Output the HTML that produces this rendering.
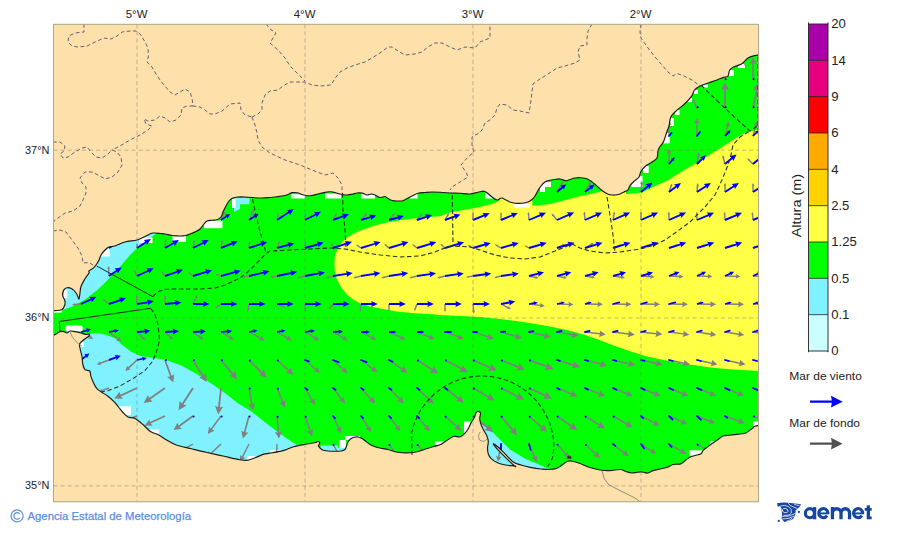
<!DOCTYPE html>
<html><head><meta charset="utf-8"><title>AEMET - Mapa de oleaje</title>
<style>html,body{margin:0;padding:0;background:#fff;}body{width:900px;height:533px;position:relative;overflow:hidden;font-family:"Liberation Sans",sans-serif;}</style>
</head><body>
<svg width="900" height="533" viewBox="0 0 900 533" style="position:absolute;left:0;top:0"><defs><clipPath id="fr"><rect x="53.5" y="24.3" width="705.0" height="477.5"/></clipPath></defs><g clip-path="url(#fr)"><rect x="53.5" y="24.3" width="705.0" height="477.5" fill="#00FF00"/><polygon points="334.4,264.0 334.8,256.0 337.0,250.5 339.5,245.5 342.5,241.5 347.5,237.2 353.8,233.6 359.0,231.0 365.0,229.0 371.5,226.6 378.5,224.6 386.0,222.8 394.3,221.3 402.0,220.0 410.0,219.0 418.0,218.1 425.8,217.4 433.0,216.8 440.0,216.2 450.0,212.5 462.0,210.3 475.0,208.0 487.0,205.3 495.0,203.0 500.0,200.0 500.0,190.0 532.0,190.0 532.5,205.7 540.0,205.3 550.0,204.0 562.0,201.0 575.0,197.5 588.0,194.5 595.0,193.0 603.0,191.0 605.0,180.0 625.0,180.0 626.0,194.0 633.0,193.5 641.7,192.4 653.0,187.0 667.0,180.7 681.0,172.0 695.0,164.0 711.0,154.0 723.0,146.5 736.0,138.0 745.0,133.0 759.0,129.0 759.0,371.0 745.0,370.3 730.0,369.3 715.0,368.0 700.0,366.0 688.0,364.3 675.0,362.3 660.0,359.3 645.0,356.0 630.0,351.3 615.0,346.0 600.0,340.3 585.0,335.0 570.0,330.8 550.0,326.5 525.0,322.2 500.0,318.9 480.0,316.9 460.0,315.9 440.0,314.9 432.6,314.3 414.6,313.2 396.6,311.4 383.0,309.0 369.5,306.4 360.5,303.5 353.8,300.0 347.0,294.5 341.4,287.7 337.0,279.8 334.8,272.0" fill="#FFFF46"/><polygon points="53.0,313.0 61.7,310.6 73.4,306.0 85.8,299.0 96.7,290.4 106.0,281.8 112.3,274.8 118.5,268.6 124.0,262.0 130.0,255.0 137.0,248.0 144.0,242.0 150.0,238.0 157.0,233.0 157.0,225.0 90.0,225.0 50.0,290.0" fill="#80F2FF"/><polygon points="80.0,334.0 89.0,334.0 96.7,333.0 106.0,334.7 115.4,338.6 123.0,345.6 131.0,351.8 140.0,355.7 152.8,358.0 164.6,359.4 181.0,365.3 197.4,374.6 213.9,385.2 225.6,393.4 237.3,402.8 251.4,411.5 265.5,422.7 279.5,433.3 291.3,441.5 298.3,445.7 300.0,470.0 60.0,470.0 60.0,340.0" fill="#80F2FF"/><polygon points="321.0,445.5 338.0,445.5 338.0,448.0 345.0,448.0 345.0,455.0 318.0,455.0" fill="#80F2FF"/><polygon points="480.8,422.5 494.5,434.0 510.0,449.5 525.7,458.9 536.6,463.5 547.5,468.5 550.0,476.0 480.0,476.0 475.0,430.0" fill="#80F2FF"/><polygon points="234.0,198.0 249.5,198.0 249.5,204.3 240.0,204.3 240.0,209.0 234.0,212.0" fill="#80F2FF"/><rect x="53.5" y="310" width="8.2" height="2.6" fill="#fff"/><rect x="64" y="289.6" width="3.3" height="8.5" fill="#fff"/><rect x="101" y="249.5" width="9" height="7" fill="#fff"/><rect x="139" y="237.5" width="13.5" height="5.5" fill="#fff"/><rect x="172.5" y="235.8" width="13.5" height="6" fill="#fff"/><rect x="204" y="220.6" width="18.5" height="7.6" fill="#fff"/><rect x="232" y="199" width="3.6" height="9" fill="#fff"/><rect x="291" y="194.2" width="14" height="4.3" fill="#fff"/><rect x="325" y="193.7" width="16" height="4.8" fill="#fff"/><rect x="361" y="194.2" width="14" height="4.3" fill="#fff"/><rect x="410" y="194.2" width="7.5" height="4.3" fill="#fff"/><rect x="485" y="193.3" width="10" height="5.2" fill="#fff"/><rect x="514" y="204" width="16" height="3.5" fill="#fff"/><rect x="540" y="182" width="5" height="10" fill="#fff"/><rect x="545" y="182" width="6" height="5" fill="#fff"/><rect x="631.5" y="180" width="11" height="7" fill="#fff"/><rect x="636" y="176" width="6.5" height="5" fill="#fff"/><rect x="643" y="166" width="5.7" height="7" fill="#fff"/><rect x="663.5" y="133" width="6.2" height="10.4" fill="#fff"/><rect x="670" y="118" width="4" height="8" fill="#fff"/><rect x="675" y="110" width="4.5" height="5" fill="#fff"/><rect x="688" y="98" width="4" height="4" fill="#fff"/><rect x="694" y="90" width="4" height="4" fill="#fff"/><rect x="703" y="84.5" width="5" height="3" fill="#fff"/><rect x="729" y="70" width="5" height="6" fill="#fff"/><rect x="738" y="64" width="7" height="4" fill="#fff"/><rect x="118.5" y="406.3" width="12.5" height="8.7" fill="#fff"/><rect x="150" y="429.5" width="9" height="4" fill="#fff"/><rect x="270" y="450" width="12.5" height="2.3" fill="#fff"/><rect x="247.5" y="456" width="7.5" height="3.3" fill="#fff"/><rect x="339" y="440" width="7" height="8" fill="#fff"/><rect x="345" y="436" width="15" height="4" fill="#fff"/><rect x="435" y="441.5" width="14" height="3.5" fill="#fff"/><rect x="464" y="421.5" width="6.4" height="11.5" fill="#fff"/><rect x="440" y="441.7" width="4.7" height="3" fill="#fff"/><rect x="689.3" y="450.3" width="13.5" height="5.4" fill="#fff"/><rect x="710.4" y="441" width="3.4" height="3.3" fill="#fff"/><rect x="753" y="421.5" width="6" height="5" fill="#fff"/><rect x="80.4" y="341.7" width="3.1" height="5.3" fill="#fff"/><rect x="612" y="194" width="4" height="2" fill="#fff"/><rect x="65.6" y="325.4" width="17.1" height="6.2" rx="2" fill="#fff"/><g><polygon points="724.2,80.0 724.2,63.4 721.4,64.1 725.0,57.0 728.6,64.1 725.8,63.4 725.8,80.0" fill="#808080"/><polygon points="752.2,80.0 752.2,63.4 749.4,64.1 753.0,57.0 756.6,64.1 753.8,63.4 753.8,80.0" fill="#808080"/><polygon points="696.3,108.3 693.3,101.8 692.7,102.4 692.8,98.9 695.5,101.1 694.6,101.2 697.7,107.7" fill="#808080"/><polygon points="724.1,108.0 724.1,89.3 721.0,90.1 725.0,82.0 729.0,90.1 725.9,89.3 725.9,108.0" fill="#808080"/><polygon points="752.1,107.8 756.0,89.5 752.8,89.6 758.4,82.6 760.7,91.3 757.8,89.9 753.9,108.2" fill="#808080"/><polygon points="668.3,136.0 668.3,124.5 666.5,125.0 669.0,120.0 671.5,125.0 669.7,124.5 669.7,136.0" fill="#808080"/><polygon points="696.3,136.0 696.3,123.0 694.2,123.6 697.0,118.0 699.8,123.6 697.7,123.0 697.7,136.0" fill="#808080"/><polygon points="724.3,135.8 727.1,125.4 725.4,125.4 728.9,121.5 729.9,126.6 728.5,125.7 725.7,136.2" fill="#808080"/><polygon points="752.3,135.8 755.1,125.4 753.4,125.4 756.9,121.5 757.9,126.6 756.5,125.7 753.7,136.2" fill="#808080"/><polygon points="668.3,164.0 668.3,153.2 666.7,153.7 669.0,149.0 671.3,153.7 669.7,153.2 669.7,164.0" fill="#808080"/><polygon points="696.3,163.9 697.8,155.4 696.6,155.5 699.1,152.2 700.3,156.2 699.2,155.6 697.7,164.1" fill="#808080"/><polygon points="724.3,164.2 722.6,157.9 722.0,158.4 722.7,155.3 724.7,157.6 724.0,157.5 725.7,163.8" fill="#808080"/><polygon points="752.5,164.5 748.4,160.4 748.2,161.0 747.3,158.3 750.0,159.2 749.4,159.4 753.5,163.5" fill="#808080"/><polygon points="276.4,191.6 280.7,184.1 279.5,183.9 283.0,181.6 282.8,185.8 282.0,184.9 277.6,192.4" fill="#808080"/><polygon points="304.4,191.6 308.7,184.1 307.5,183.9 311.0,181.6 310.8,185.8 310.0,184.9 305.6,192.4" fill="#808080"/><polygon points="332.4,191.6 336.7,184.1 335.5,183.9 339.0,181.6 338.8,185.8 338.0,184.9 333.6,192.4" fill="#808080"/><polygon points="360.4,191.6 364.7,184.1 363.5,183.9 367.0,181.6 366.8,185.8 366.0,184.9 361.6,192.4" fill="#808080"/><polygon points="416.4,191.6 420.7,184.1 419.5,183.9 423.0,181.6 422.8,185.8 422.0,184.9 417.6,192.4" fill="#808080"/><polygon points="444.4,191.6 448.7,184.1 447.5,183.9 451.0,181.6 450.8,185.8 450.0,184.9 445.6,192.4" fill="#808080"/><polygon points="472.4,191.6 476.7,184.1 475.5,183.9 479.0,181.6 478.8,185.8 478.0,184.9 473.6,192.4" fill="#808080"/><polygon points="556.4,191.6 560.7,184.1 559.5,183.9 563.0,181.6 562.8,185.8 562.0,184.9 557.6,192.4" fill="#808080"/><polygon points="584.4,191.6 588.7,184.1 587.5,183.9 591.0,181.6 590.8,185.8 590.0,184.9 585.6,192.4" fill="#808080"/><polygon points="612.3,191.8 614.8,183.9 613.7,183.9 616.5,181.0 617.1,185.0 616.2,184.3 613.7,192.2" fill="#808080"/><polygon points="640.3,191.9 641.0,184.0 640.0,184.3 642.0,181.0 643.4,184.6 642.4,184.2 641.7,192.1" fill="#808080"/><polygon points="668.3,191.8 670.5,185.7 669.8,185.7 672.1,183.5 672.4,186.6 671.9,186.2 669.7,192.2" fill="#808080"/><polygon points="696.3,191.9 696.8,185.5 696.2,185.7 697.8,183.0 698.9,185.9 698.3,185.6 697.7,192.1" fill="#808080"/><polygon points="724.3,192.0 724.3,185.5 723.6,185.8 725.0,183.0 726.4,185.8 725.7,185.5 725.7,192.0" fill="#808080"/><polygon points="752.3,192.0 752.3,185.5 751.6,185.8 753.0,183.0 754.4,185.8 753.7,185.5 753.7,192.0" fill="#808080"/><polygon points="220.3,219.7 223.4,213.2 222.5,213.1 225.2,210.9 225.3,214.4 224.7,213.8 221.7,220.3" fill="#808080"/><polygon points="248.3,219.7 252.0,211.9 250.8,211.7 254.1,209.1 254.2,213.3 253.3,212.5 249.7,220.3" fill="#808080"/><polygon points="276.3,219.8 277.6,214.9 277.2,215.1 278.8,213.2 279.3,215.6 279.0,215.3 277.7,220.2" fill="#808080"/><polygon points="304.3,219.9 304.7,214.9 304.3,215.1 305.6,213.0 306.5,215.3 306.2,215.0 305.7,220.1" fill="#808080"/><polygon points="332.4,219.7 335.1,214.6 334.5,214.5 336.8,212.9 336.7,215.7 336.3,215.2 333.6,220.3" fill="#808080"/><polygon points="360.5,219.5 365.1,214.5 364.4,214.2 367.5,213.1 366.5,216.2 366.2,215.5 361.5,220.5" fill="#808080"/><polygon points="388.4,219.5 392.6,214.6 391.9,214.3 394.8,213.1 394.1,216.1 393.7,215.5 389.6,220.5" fill="#808080"/><polygon points="416.4,219.6 420.4,214.4 419.7,214.2 422.5,212.9 421.9,216.0 421.6,215.3 417.6,220.4" fill="#808080"/><polygon points="444.4,219.6 447.3,214.6 446.7,214.6 449.0,213.1 448.8,215.8 448.5,215.4 445.6,220.4" fill="#808080"/><polygon points="472.3,220.0 472.3,214.2 471.8,214.5 473.0,212.0 474.2,214.5 473.7,214.2 473.7,220.0" fill="#808080"/><polygon points="500.3,220.0 500.3,214.2 499.8,214.5 501.0,212.0 502.2,214.5 501.7,214.2 501.7,220.0" fill="#808080"/><polygon points="528.3,220.1 527.8,214.3 527.3,214.6 528.3,212.0 529.8,214.4 529.2,214.2 529.7,219.9" fill="#808080"/><polygon points="556.4,220.5 552.5,215.8 552.2,216.4 551.5,213.5 554.2,214.7 553.6,214.8 557.6,219.5" fill="#808080"/><polygon points="584.3,220.1 583.7,214.0 583.2,214.3 584.3,211.5 585.8,214.0 585.2,213.8 585.7,219.9" fill="#808080"/><polygon points="612.3,219.9 613.4,213.8 612.7,214.0 614.5,211.6 615.3,214.5 614.8,214.1 613.7,220.1" fill="#808080"/><polygon points="640.3,220.0 640.3,213.9 639.7,214.1 641.0,211.5 642.3,214.1 641.7,213.9 641.7,220.0" fill="#808080"/><polygon points="668.3,220.0 668.1,214.0 667.6,214.3 668.8,211.6 670.2,214.2 669.6,213.9 669.7,220.0" fill="#808080"/><polygon points="696.3,220.0 696.0,214.1 695.5,214.4 696.6,211.8 698.0,214.3 697.5,214.0 697.7,220.0" fill="#808080"/><polygon points="724.3,220.0 723.9,214.2 723.4,214.5 724.5,211.9 725.9,214.3 725.3,214.1 725.7,220.0" fill="#808080"/><polygon points="752.3,220.1 751.8,214.3 751.3,214.6 752.3,212.0 753.8,214.4 753.2,214.2 753.7,219.9" fill="#808080"/><polygon points="108.3,248.0 108.3,244.4 108.2,244.6 109.0,243.0 109.8,244.6 109.7,244.4 109.7,248.0" fill="#808080"/><polygon points="136.3,248.0 136.3,244.4 136.2,244.6 137.0,243.0 137.8,244.6 137.7,244.4 137.7,248.0" fill="#808080"/><polygon points="164.3,247.9 164.8,241.5 164.2,241.7 165.8,239.0 166.9,241.9 166.3,241.6 165.7,248.1" fill="#808080"/><polygon points="192.3,247.9 193.3,242.2 192.7,242.3 194.4,240.1 195.2,242.8 194.7,242.4 193.7,248.1" fill="#808080"/><polygon points="220.3,247.9 221.3,242.2 220.7,242.3 222.4,240.1 223.2,242.8 222.7,242.4 221.7,248.1" fill="#808080"/><polygon points="248.3,247.9 248.7,242.9 248.3,243.1 249.6,241.0 250.5,243.3 250.2,243.0 249.7,248.1" fill="#808080"/><polygon points="276.3,247.8 278.3,242.3 277.7,242.4 279.7,240.5 280.1,243.2 279.7,242.8 277.7,248.2" fill="#808080"/><polygon points="304.3,247.9 304.7,242.9 304.3,243.1 305.6,241.0 306.5,243.3 306.2,243.0 305.7,248.1" fill="#808080"/><polygon points="332.3,248.2 330.8,244.2 330.7,244.4 330.9,242.4 332.5,243.8 332.2,243.7 333.7,247.8" fill="#808080"/><polygon points="360.6,248.6 357.0,246.1 357.1,246.4 356.1,244.6 358.1,244.9 357.9,244.9 361.4,247.4" fill="#808080"/><polygon points="388.5,248.6 385.2,245.8 385.2,246.1 384.4,244.1 386.4,244.6 386.2,244.7 389.5,247.4" fill="#808080"/><polygon points="416.5,248.6 413.2,245.8 413.2,246.1 412.4,244.1 414.4,244.6 414.2,244.7 417.5,247.4" fill="#808080"/><polygon points="444.5,248.6 441.2,245.8 441.2,246.1 440.4,244.1 442.4,244.6 442.2,244.7 445.5,247.4" fill="#808080"/><polygon points="472.6,248.6 468.9,246.5 468.9,246.7 467.8,245.0 469.9,245.1 469.6,245.2 473.4,247.4" fill="#808080"/><polygon points="500.6,248.6 496.3,246.1 496.3,246.5 494.9,244.5 497.4,244.6 497.0,244.8 501.4,247.4" fill="#808080"/><polygon points="528.6,248.6 525.5,246.8 525.6,246.9 524.7,245.5 526.4,245.6 526.2,245.6 529.4,247.4" fill="#808080"/><polygon points="556.7,247.3 562.6,244.6 562.0,244.1 565.2,244.2 563.2,246.6 563.2,245.9 557.3,248.7" fill="#808080"/><polygon points="584.6,247.4 590.9,243.8 590.2,243.2 593.7,243.0 591.8,245.9 591.6,245.0 585.4,248.6" fill="#808080"/><polygon points="612.8,247.3 619.2,245.0 618.7,244.4 621.9,244.8 619.7,247.1 619.7,246.3 613.2,248.7" fill="#808080"/><polygon points="640.8,247.3 647.2,245.0 646.7,244.4 649.9,244.8 647.7,247.1 647.7,246.3 641.2,248.7" fill="#808080"/><polygon points="668.8,247.3 675.2,245.0 674.7,244.4 677.9,244.8 675.7,247.1 675.7,246.3 669.2,248.7" fill="#808080"/><polygon points="696.8,247.3 703.2,245.0 702.7,244.4 705.9,244.8 703.7,247.1 703.7,246.3 697.2,248.7" fill="#808080"/><polygon points="724.8,247.3 731.2,245.0 730.7,244.4 733.9,244.8 731.7,247.1 731.7,246.3 725.2,248.7" fill="#808080"/><polygon points="752.8,247.3 759.2,245.0 758.7,244.4 761.9,244.8 759.7,247.1 759.7,246.3 753.2,248.7" fill="#808080"/><polygon points="108.3,276.0 107.9,268.8 107.1,269.2 108.5,266.0 110.2,269.0 109.3,268.8 109.7,276.0" fill="#808080"/><polygon points="136.3,276.3 134.2,271.7 134.0,272.1 134.0,269.7 135.9,271.2 135.5,271.1 137.7,275.7" fill="#808080"/><polygon points="164.4,276.4 161.9,272.9 161.9,273.1 161.6,271.1 163.4,272.1 163.1,272.0 165.6,275.6" fill="#808080"/><polygon points="192.5,276.6 189.2,273.8 189.2,274.1 188.4,272.1 190.4,272.6 190.2,272.7 193.5,275.4" fill="#808080"/><polygon points="220.8,276.7 216.7,275.2 216.8,275.5 215.4,273.9 217.4,273.7 217.2,273.8 221.2,275.3" fill="#808080"/><polygon points="249.1,276.7 244.2,277.6 244.4,277.9 242.1,277.2 244.1,275.8 243.9,276.2 248.9,275.3" fill="#808080"/><polygon points="277.1,276.7 272.2,277.6 272.4,277.9 270.1,277.2 272.1,275.8 271.9,276.2 276.9,275.3" fill="#808080"/><polygon points="305.2,276.7 299.6,278.2 300.0,278.6 297.3,278.1 299.3,276.2 299.2,276.8 304.8,275.3" fill="#808080"/><polygon points="333.2,276.7 327.6,278.2 328.0,278.6 325.3,278.1 327.3,276.2 327.2,276.8 332.8,275.3" fill="#808080"/><polygon points="361.2,276.7 355.6,278.2 356.0,278.6 353.3,278.1 355.3,276.2 355.2,276.8 360.8,275.3" fill="#808080"/><polygon points="389.2,276.7 383.6,278.2 384.0,278.6 381.3,278.1 383.3,276.2 383.2,276.8 388.8,275.3" fill="#808080"/><polygon points="417.2,276.7 411.6,278.2 412.0,278.6 409.3,278.1 411.3,276.2 411.2,276.8 416.8,275.3" fill="#808080"/><polygon points="445.2,276.7 439.6,278.2 440.0,278.6 437.3,278.1 439.3,276.2 439.2,276.8 444.8,275.3" fill="#808080"/><polygon points="473.1,276.7 468.2,277.6 468.4,277.9 466.1,277.2 468.1,275.8 467.9,276.2 472.9,275.3" fill="#808080"/><polygon points="501.2,276.7 496.3,278.0 496.6,278.3 494.2,277.8 496.1,276.2 495.9,276.6 500.8,275.3" fill="#808080"/><polygon points="529.2,275.3 536.0,276.7 535.9,275.9 538.5,278.0 535.2,278.9 535.7,278.2 528.8,276.7" fill="#808080"/><polygon points="557.2,275.3 564.2,276.8 564.1,275.9 566.8,278.1 563.4,279.0 563.9,278.2 556.8,276.7" fill="#808080"/><polygon points="585.1,275.3 592.2,276.5 592.1,275.7 594.8,277.7 591.5,278.7 592.0,278.0 584.9,276.7" fill="#808080"/><polygon points="613.1,275.3 621.7,276.5 621.5,275.3 624.9,277.7 620.9,279.0 621.5,277.9 612.9,276.7" fill="#808080"/><polygon points="641.1,275.3 650.8,276.0 650.4,274.6 654.5,276.9 650.1,278.7 650.7,277.4 640.9,276.7" fill="#808080"/><polygon points="669.0,275.3 679.5,275.8 679.1,274.3 683.5,276.8 678.9,278.8 679.4,277.3 669.0,276.7" fill="#808080"/><polygon points="697.0,275.3 708.2,275.7 707.8,274.0 712.5,276.5 707.6,278.8 708.1,277.1 697.0,276.7" fill="#808080"/><polygon points="725.0,275.3 736.2,275.7 735.8,274.0 740.5,276.5 735.6,278.8 736.1,277.1 725.0,276.7" fill="#808080"/><polygon points="753.0,275.3 764.2,275.7 763.8,274.0 768.5,276.5 763.6,278.8 764.1,277.1 753.0,276.7" fill="#808080"/><polygon points="81.1,304.7 74.6,305.3 74.9,305.9 72.0,304.8 74.7,303.2 74.5,303.8 80.9,303.3" fill="#808080"/><polygon points="108.5,304.6 104.1,300.8 104.0,301.4 102.9,298.9 105.6,299.5 105.0,299.7 109.5,303.4" fill="#808080"/><polygon points="136.3,304.0 135.9,297.6 135.3,297.9 136.5,295.0 138.1,297.7 137.4,297.5 137.7,304.0" fill="#808080"/><polygon points="164.3,304.0 164.3,297.5 163.6,297.8 165.0,295.0 166.4,297.8 165.7,297.5 165.7,304.0" fill="#808080"/><polygon points="192.3,303.7 195.4,297.2 194.5,297.1 197.2,294.9 197.3,298.4 196.7,297.8 193.7,304.3" fill="#808080"/><polygon points="221.4,304.6 217.3,307.5 217.7,307.7 215.3,308.0 216.4,305.9 216.4,306.3 220.6,303.4" fill="#808080"/><polygon points="249.7,304.1 248.7,309.8 249.3,309.7 247.6,311.9 246.8,309.2 247.3,309.6 248.3,303.9" fill="#808080"/><polygon points="277.2,303.3 282.7,305.3 282.6,304.7 284.5,306.7 281.8,307.1 282.2,306.7 276.8,304.7" fill="#808080"/><polygon points="305.7,303.9 306.2,309.7 306.7,309.4 305.7,312.0 304.2,309.6 304.8,309.8 304.3,304.1" fill="#808080"/><polygon points="333.6,304.4 330.7,308.6 331.1,308.6 329.0,309.7 329.3,307.3 329.5,307.7 332.4,303.6" fill="#808080"/><polygon points="361.7,304.1 361.2,309.8 361.8,309.6 360.3,312.0 359.3,309.4 359.8,309.7 360.3,303.9" fill="#808080"/><polygon points="389.7,304.0 389.7,309.0 390.1,308.8 389.0,311.0 387.9,308.8 388.3,309.0 388.3,304.0" fill="#808080"/><polygon points="417.7,304.2 415.8,309.3 416.3,309.3 414.4,311.0 414.1,308.5 414.5,308.8 416.3,303.8" fill="#808080"/><polygon points="445.7,304.0 445.7,309.8 446.2,309.5 445.0,312.0 443.8,309.5 444.3,309.8 444.3,304.0" fill="#808080"/><polygon points="473.7,303.9 474.3,310.8 475.0,310.4 473.8,313.5 472.1,310.7 472.9,310.9 472.3,304.1" fill="#808080"/><polygon points="501.3,303.4 508.4,307.0 508.5,305.9 510.8,309.0 507.0,309.0 507.7,308.2 500.7,304.6" fill="#808080"/><polygon points="529.1,303.3 540.5,304.7 540.3,302.9 544.9,305.9 539.7,307.8 540.4,306.1 528.9,304.7" fill="#808080"/><polygon points="557.0,303.3 568.9,303.7 568.5,301.8 573.5,304.6 568.3,307.0 568.9,305.1 557.0,304.7" fill="#808080"/><polygon points="585.0,303.3 598.0,303.5 597.5,301.4 603.0,304.3 597.4,307.0 598.0,305.0 585.0,304.7" fill="#808080"/><polygon points="613.0,303.3 626.3,303.5 625.8,301.4 631.5,304.3 625.7,307.1 626.3,305.0 613.0,304.7" fill="#808080"/><polygon points="641.0,303.3 654.7,303.5 654.2,301.3 660.0,304.3 654.1,307.2 654.7,305.0 641.0,304.7" fill="#808080"/><polygon points="669.0,303.3 682.7,303.5 682.2,301.3 688.0,304.3 682.1,307.2 682.7,305.0 669.0,304.7" fill="#808080"/><polygon points="697.0,303.3 710.7,303.5 710.2,301.3 716.0,304.3 710.1,307.2 710.7,305.0 697.0,304.7" fill="#808080"/><polygon points="725.0,303.3 738.7,303.5 738.2,301.3 744.0,304.3 738.1,307.2 738.7,305.0 725.0,304.7" fill="#808080"/><polygon points="753.0,303.3 766.7,303.5 766.2,301.3 772.0,304.3 766.1,307.2 766.7,305.0 753.0,304.7" fill="#808080"/><polygon points="81.4,331.4 90.1,336.4 90.5,335.0 93.1,339.0 88.3,338.7 89.4,337.7 80.6,332.6" fill="#808080"/><polygon points="109.4,331.4 118.4,338.1 119.0,336.5 121.4,341.3 116.1,340.4 117.5,339.3 108.6,332.6" fill="#808080"/><polygon points="137.5,331.5 143.4,337.4 143.9,336.4 145.1,340.1 141.4,338.9 142.4,338.4 136.5,332.5" fill="#808080"/><polygon points="165.5,331.5 171.3,336.9 171.7,335.9 173.0,339.5 169.4,338.4 170.3,337.9 164.5,332.5" fill="#808080"/><polygon points="193.4,331.4 201.0,336.9 201.4,335.6 203.5,339.6 199.1,338.9 200.2,338.1 192.6,332.6" fill="#808080"/><polygon points="221.4,331.4 230.6,337.1 231.0,335.5 233.7,339.9 228.5,339.5 229.8,338.3 220.6,332.6" fill="#808080"/><polygon points="249.3,331.4 260.8,337.5 261.3,335.4 264.9,340.5 258.7,340.3 260.1,338.7 248.7,332.6" fill="#808080"/><polygon points="277.4,331.4 288.0,337.5 288.5,335.6 291.7,340.5 285.8,340.1 287.3,338.8 276.6,332.6" fill="#808080"/><polygon points="305.4,331.4 315.6,337.5 316.1,335.7 319.1,340.5 313.4,340.1 314.8,338.7 304.6,332.6" fill="#808080"/><polygon points="333.4,331.4 344.0,337.5 344.5,335.6 347.7,340.5 341.8,340.1 343.3,338.8 332.6,332.6" fill="#808080"/><polygon points="361.3,331.4 372.3,336.9 372.6,335.0 376.1,339.7 370.3,339.7 371.6,338.2 360.7,332.6" fill="#808080"/><polygon points="389.3,331.3 401.1,336.8 401.4,334.7 405.3,339.6 399.1,339.8 400.5,338.1 388.7,332.7" fill="#808080"/><polygon points="417.3,331.3 430.0,336.5 430.3,334.2 434.6,339.1 428.1,339.6 429.4,337.8 416.7,332.7" fill="#808080"/><polygon points="445.2,331.3 458.8,336.3 459.0,333.8 463.8,338.8 456.9,339.6 458.3,337.6 444.8,332.7" fill="#808080"/><polygon points="473.2,331.3 488.3,336.2 488.5,333.4 493.9,338.8 486.4,339.9 487.8,337.6 472.8,332.7" fill="#808080"/><polygon points="501.2,331.3 516.5,335.6 516.5,332.9 522.1,338.1 514.7,339.5 516.0,337.1 500.8,332.7" fill="#808080"/><polygon points="529.2,331.2 545.0,334.9 544.9,332.1 550.9,337.1 543.3,338.9 544.6,336.4 528.8,332.8" fill="#808080"/><polygon points="557.1,331.2 572.8,334.0 572.5,331.3 578.7,335.8 571.4,338.0 572.5,335.5 556.9,332.8" fill="#808080"/><polygon points="585.1,331.3 600.1,333.1 599.8,330.5 605.8,334.6 599.0,337.0 599.9,334.6 584.9,332.7" fill="#808080"/><polygon points="613.1,331.2 628.8,333.2 628.5,330.5 634.8,334.7 627.7,337.2 628.6,334.7 612.9,332.8" fill="#808080"/><polygon points="641.1,331.3 656.5,332.9 656.1,330.2 662.4,334.2 655.4,336.9 656.3,334.4 640.9,332.7" fill="#808080"/><polygon points="669.1,331.3 683.7,333.2 683.4,330.7 689.3,334.7 682.6,337.0 683.6,334.6 668.9,332.7" fill="#808080"/><polygon points="697.1,331.3 711.0,333.5 710.8,331.1 716.3,335.1 709.8,337.1 710.8,334.9 696.9,332.7" fill="#808080"/><polygon points="725.1,331.3 739.0,333.5 738.8,331.1 744.3,335.1 737.8,337.1 738.8,334.9 724.9,332.7" fill="#808080"/><polygon points="753.1,331.3 767.0,333.5 766.8,331.1 772.3,335.1 765.8,337.1 766.8,334.9 752.9,332.7" fill="#808080"/><polygon points="109.2,360.7 100.4,363.9 101.3,365.0 96.8,364.4 99.9,361.2 99.9,362.5 108.8,359.3" fill="#808080"/><polygon points="137.5,360.5 129.1,368.4 130.6,369.3 125.3,370.9 127.2,365.7 128.1,367.3 136.5,359.5" fill="#808080"/><polygon points="165.8,359.7 171.7,376.0 174.2,374.3 173.2,382.6 167.2,376.8 170.1,376.5 164.2,360.3" fill="#808080"/><polygon points="193.8,359.5 203.7,375.4 205.9,373.1 206.8,382.0 199.1,377.3 202.2,376.4 192.2,360.5" fill="#808080"/><polygon points="221.7,359.4 233.3,373.2 235.1,370.7 237.1,379.2 229.1,375.7 231.9,374.4 220.3,360.6" fill="#808080"/><polygon points="249.6,359.4 262.4,372.1 263.9,369.5 266.7,377.7 258.5,374.9 261.1,373.4 248.4,360.6" fill="#808080"/><polygon points="277.5,359.4 289.3,370.0 290.6,367.6 293.3,374.7 286.0,372.7 288.3,371.2 276.5,360.6" fill="#808080"/><polygon points="305.5,359.5 316.4,368.9 317.4,366.7 320.1,373.1 313.4,371.4 315.4,370.0 304.5,360.5" fill="#808080"/><polygon points="333.5,359.5 343.9,368.8 345.0,366.7 347.4,373.0 340.9,371.2 342.9,369.9 332.5,360.5" fill="#808080"/><polygon points="361.4,359.4 373.2,368.3 374.2,366.0 377.4,372.3 370.4,371.1 372.4,369.5 360.6,360.6" fill="#808080"/><polygon points="389.5,359.4 402.8,368.7 403.8,366.1 407.5,373.0 399.8,371.8 401.9,370.0 388.5,360.6" fill="#808080"/><polygon points="417.5,359.3 432.7,368.8 433.7,365.9 438.2,373.2 429.6,372.4 431.8,370.3 416.5,360.7" fill="#808080"/><polygon points="445.4,359.2 462.0,368.0 462.7,364.9 468.0,372.2 458.9,372.0 461.1,369.6 444.6,360.8" fill="#808080"/><polygon points="473.4,359.2 490.5,366.8 491.0,363.6 496.8,370.6 487.7,371.0 489.8,368.5 472.6,360.8" fill="#808080"/><polygon points="501.3,359.2 518.7,366.2 519.1,363.0 525.1,369.7 516.1,370.5 518.0,367.9 500.7,360.8" fill="#808080"/><polygon points="529.3,359.1 546.9,365.6 547.2,362.3 553.4,368.9 544.5,369.9 546.3,367.3 528.7,360.9" fill="#808080"/><polygon points="557.2,359.2 573.8,364.3 573.9,361.3 580.0,367.0 571.7,368.4 573.3,365.9 556.8,360.8" fill="#808080"/><polygon points="585.2,359.2 601.3,363.2 601.3,360.4 607.3,365.6 599.5,367.3 600.9,364.8 584.8,360.8" fill="#808080"/><polygon points="613.2,359.2 629.1,362.9 629.1,360.1 635.1,365.1 627.5,367.0 628.8,364.5 612.8,360.8" fill="#808080"/><polygon points="641.2,359.2 656.7,362.5 656.6,359.8 662.5,364.6 655.1,366.5 656.4,364.1 640.8,360.8" fill="#808080"/><polygon points="669.2,359.3 684.3,362.5 684.2,359.8 690.0,364.5 682.8,366.3 684.0,364.0 668.8,360.7" fill="#808080"/><polygon points="697.2,359.3 712.0,362.4 711.9,359.8 717.5,364.4 710.5,366.2 711.7,363.9 696.8,360.7" fill="#808080"/><polygon points="725.2,359.3 740.0,362.4 739.9,359.8 745.5,364.4 738.5,366.2 739.7,363.9 724.8,360.7" fill="#808080"/><polygon points="753.2,359.3 768.0,362.4 767.9,359.8 773.5,364.4 766.5,366.2 767.7,363.9 752.8,360.7" fill="#808080"/><polygon points="109.2,388.7 102.5,391.1 103.0,391.8 99.6,391.4 102.0,388.9 102.0,389.8 108.8,387.3" fill="#808080"/><polygon points="137.4,388.8 121.0,396.4 123.0,398.8 114.3,398.6 119.7,391.8 120.3,394.8 136.6,387.2" fill="#808080"/><polygon points="165.5,388.7 150.2,399.5 152.6,401.6 143.7,402.9 148.0,395.0 149.1,398.0 164.5,387.3" fill="#808080"/><polygon points="193.8,388.5 183.4,404.5 186.5,405.6 178.6,410.2 179.6,401.1 181.8,403.5 192.2,387.5" fill="#808080"/><polygon points="221.9,388.1 219.9,407.2 223.2,406.7 218.2,414.5 215.0,405.8 218.1,407.0 220.1,387.9" fill="#808080"/><polygon points="249.8,387.9 252.6,404.0 255.2,402.8 252.9,410.4 248.3,404.0 251.1,404.3 248.2,388.1" fill="#808080"/><polygon points="277.7,387.7 283.4,401.8 285.4,400.2 284.9,407.5 279.4,402.7 282.0,402.3 276.3,388.3" fill="#808080"/><polygon points="305.6,387.6 312.7,399.9 314.4,398.2 314.8,405.0 309.1,401.2 311.4,400.6 304.4,388.4" fill="#808080"/><polygon points="333.6,387.6 342.3,398.7 343.7,396.8 345.1,403.4 338.9,400.5 341.1,399.6 332.4,388.4" fill="#808080"/><polygon points="361.5,387.5 371.7,398.8 373.1,396.6 375.1,403.6 368.3,400.9 370.6,399.7 360.5,388.5" fill="#808080"/><polygon points="389.5,387.5 400.3,398.6 401.7,396.4 403.9,403.5 396.9,401.0 399.2,399.7 388.5,388.5" fill="#808080"/><polygon points="417.5,387.4 429.7,398.7 431.0,396.2 433.8,403.7 426.2,401.4 428.6,399.9 416.5,388.6" fill="#808080"/><polygon points="445.5,387.3 459.2,398.0 460.3,395.3 463.9,402.8 455.8,401.1 458.1,399.3 444.5,388.7" fill="#808080"/><polygon points="473.4,387.2 489.0,396.3 489.9,393.3 494.7,400.5 486.0,400.0 488.2,397.8 472.6,388.8" fill="#808080"/><polygon points="501.4,387.2 518.1,395.7 518.8,392.6 524.2,399.8 515.2,399.7 517.3,397.3 500.6,388.8" fill="#808080"/><polygon points="529.4,387.2 545.7,394.8 546.3,391.8 551.7,398.6 543.0,398.8 545.0,396.4 528.6,388.8" fill="#808080"/><polygon points="557.3,387.3 572.0,393.2 572.4,390.5 577.4,396.2 569.8,396.8 571.4,394.7 556.7,388.7" fill="#808080"/><polygon points="585.3,387.3 599.8,393.2 600.1,390.5 605.1,396.1 597.6,396.7 599.2,394.6 584.7,388.7" fill="#808080"/><polygon points="613.3,387.3 627.6,393.1 627.9,390.5 632.8,396.0 625.4,396.6 627.0,394.5 612.7,388.7" fill="#808080"/><polygon points="641.3,387.3 655.4,393.0 655.7,390.4 660.6,395.9 653.3,396.5 654.8,394.4 640.7,388.7" fill="#808080"/><polygon points="669.3,387.3 683.2,392.9 683.5,390.4 688.3,395.8 681.1,396.4 682.6,394.3 668.7,388.7" fill="#808080"/><polygon points="697.3,387.3 711.0,392.9 711.3,390.4 716.0,395.7 708.9,396.2 710.4,394.2 696.7,388.7" fill="#808080"/><polygon points="725.3,387.3 739.0,392.9 739.3,390.4 744.0,395.7 736.9,396.2 738.4,394.2 724.7,388.7" fill="#808080"/><polygon points="753.3,387.3 767.0,392.9 767.3,390.4 772.0,395.7 764.9,396.2 766.4,394.2 752.7,388.7" fill="#808080"/><polygon points="137.3,416.7 122.4,422.1 123.9,424.4 116.3,423.5 121.6,418.0 121.8,420.7 136.7,415.3" fill="#808080"/><polygon points="165.3,416.7 150.7,423.5 152.5,425.7 144.7,425.5 149.5,419.4 150.0,422.1 164.7,415.3" fill="#808080"/><polygon points="193.5,416.7 179.5,426.9 181.8,428.7 173.6,430.1 177.4,422.7 178.5,425.5 192.5,415.3" fill="#808080"/><polygon points="221.6,416.5 212.1,429.5 214.7,430.5 207.8,434.1 209.1,426.5 210.9,428.6 220.4,415.5" fill="#808080"/><polygon points="249.8,416.2 245.4,432.5 248.3,432.5 242.9,438.6 241.3,430.7 243.8,432.1 248.2,415.8" fill="#808080"/><polygon points="277.8,415.9 279.2,432.2 281.9,431.3 279.0,438.6 274.9,431.9 277.6,432.4 276.2,416.1" fill="#808080"/><polygon points="305.7,415.8 310.8,430.5 313.0,429.0 312.0,436.4 306.7,431.2 309.4,431.0 304.3,416.2" fill="#808080"/><polygon points="333.7,415.7 339.4,428.1 341.2,426.6 341.0,433.2 335.9,429.1 338.1,428.7 332.3,416.3" fill="#808080"/><polygon points="361.6,415.6 368.9,427.2 370.4,425.6 371.1,432.1 365.4,428.7 367.6,428.0 360.4,416.4" fill="#808080"/><polygon points="389.6,415.6 397.8,426.5 399.2,424.7 400.4,431.2 394.5,428.2 396.7,427.4 388.4,416.4" fill="#808080"/><polygon points="417.6,415.5 426.8,426.6 428.2,424.6 429.9,431.3 423.5,428.6 425.7,427.5 416.4,416.5" fill="#808080"/><polygon points="445.5,415.4 457.3,426.0 458.6,423.6 461.3,430.7 454.0,428.7 456.3,427.2 444.5,416.6" fill="#808080"/><polygon points="473.6,415.3 488.0,426.8 489.3,423.9 493.0,432.0 484.3,430.1 486.8,428.2 472.4,416.7" fill="#808080"/><polygon points="501.7,415.4 513.3,429.2 515.1,426.7 517.1,435.2 509.1,431.7 511.9,430.4 500.3,416.6" fill="#808080"/><polygon points="529.6,415.4 542.6,426.7 543.9,424.1 547.1,431.7 539.1,429.7 541.5,428.0 528.4,416.6" fill="#808080"/><polygon points="557.5,415.3 572.0,425.5 573.1,422.6 577.2,430.1 568.7,428.9 571.0,426.9 556.5,416.7" fill="#808080"/><polygon points="585.4,415.3 599.9,424.3 600.7,421.5 605.0,428.5 596.9,427.7 599.0,425.7 584.6,416.7" fill="#808080"/><polygon points="613.4,415.3 627.5,423.5 628.3,420.8 632.6,427.3 624.8,426.8 626.7,424.8 612.6,416.7" fill="#808080"/><polygon points="641.3,415.3 654.8,422.2 655.4,419.7 659.7,425.5 652.4,425.5 654.2,423.5 640.7,416.7" fill="#808080"/><polygon points="669.3,415.3 682.5,421.2 682.9,418.8 687.3,424.1 680.3,424.4 681.9,422.5 668.7,416.7" fill="#808080"/><polygon points="697.3,415.3 710.2,420.5 710.5,418.2 714.9,423.2 708.2,423.8 709.6,421.9 696.7,416.7" fill="#808080"/><polygon points="725.3,415.3 739.5,420.5 739.7,417.9 744.7,423.2 737.5,424.0 739.0,421.9 724.7,416.7" fill="#808080"/><polygon points="753.3,415.3 767.5,420.5 767.7,417.9 772.7,423.2 765.5,424.0 767.0,421.9 752.7,416.7" fill="#808080"/><polygon points="165.3,444.7 152.2,450.8 153.8,452.6 146.9,452.5 151.2,447.0 151.6,449.4 164.7,443.3" fill="#808080"/><polygon points="193.4,444.6 180.9,451.8 182.6,453.6 175.7,454.0 179.5,448.2 180.1,450.6 192.6,443.4" fill="#808080"/><polygon points="221.5,444.5 210.9,454.4 213.0,455.7 206.4,457.6 208.8,451.1 210.0,453.3 220.5,443.5" fill="#808080"/><polygon points="249.6,444.3 243.1,457.2 245.5,457.7 239.9,461.8 240.0,454.9 241.8,456.5 248.4,443.7" fill="#808080"/><polygon points="277.7,444.0 277.2,458.4 279.6,457.9 276.3,464.0 273.4,457.7 275.8,458.4 276.3,444.0" fill="#808080"/><polygon points="305.7,443.8 309.4,457.7 311.6,456.5 310.2,463.3 305.6,458.1 308.0,458.1 304.3,444.2" fill="#808080"/><polygon points="333.6,443.7 339.7,455.1 341.3,453.7 341.5,459.9 336.4,456.3 338.5,455.8 332.4,444.3" fill="#808080"/><polygon points="389.6,443.6 397.0,454.2 398.4,452.6 399.3,458.7 393.8,455.8 395.8,455.0 388.4,444.4" fill="#808080"/><polygon points="417.6,443.5 425.9,453.5 427.1,451.7 428.6,457.8 422.8,455.3 424.8,454.4 416.4,444.5" fill="#808080"/><polygon points="445.5,443.5 454.7,452.7 455.8,450.8 457.7,456.7 451.8,454.8 453.7,453.7 444.5,444.5" fill="#808080"/><polygon points="501.7,444.1 499.5,456.9 501.6,456.7 497.9,461.7 496.1,455.7 498.0,456.7 500.3,443.9" fill="#808080"/><polygon points="529.7,443.7 535.2,456.7 537.1,455.3 536.7,462.0 531.5,457.6 533.9,457.3 528.3,444.3" fill="#808080"/><polygon points="557.5,443.5 566.4,453.7 567.7,451.8 569.3,458.1 563.3,455.6 565.3,454.7 556.5,444.5" fill="#808080"/><polygon points="585.5,443.5 596.3,453.6 597.5,451.3 600.0,458.0 593.2,456.0 595.3,454.6 584.5,444.5" fill="#808080"/><polygon points="613.4,443.4 624.8,452.3 625.8,450.1 628.8,456.3 622.0,454.9 623.9,453.4 612.6,444.6" fill="#808080"/><polygon points="641.4,443.4 652.3,450.5 652.9,448.4 656.1,453.8 649.9,453.1 651.5,451.7 640.6,444.6" fill="#808080"/><polygon points="669.4,443.4 681.9,450.6 682.5,448.2 686.3,454.0 679.4,453.6 681.1,451.8 668.6,444.6" fill="#808080"/><polygon points="697.4,443.4 709.2,450.2 709.8,448.0 713.5,453.5 706.9,453.1 708.5,451.5 696.6,444.6" fill="#808080"/><polygon points="529.5,471.4 539.4,479.8 540.3,477.8 542.8,483.6 536.7,482.1 538.5,480.9 528.5,472.6" fill="#808080"/><polygon points="557.5,471.4 567.6,479.6 568.4,477.6 571.0,483.3 564.9,481.9 566.7,480.7 556.5,472.6" fill="#808080"/><polygon points="613.4,471.4 623.9,479.1 624.7,477.1 627.5,482.6 621.4,481.6 623.0,480.3 612.6,472.6" fill="#808080"/><polygon points="641.4,471.4 652.0,478.8 652.8,476.8 655.7,482.3 649.6,481.4 651.2,480.0 640.6,472.6" fill="#808080"/></g><g><circle cx="725.7" cy="79.3" r="1.0" fill="#0000FF"/><circle cx="753.7" cy="79.3" r="1.0" fill="#0000FF"/><circle cx="697.7" cy="107.3" r="1.0" fill="#0000FF"/><circle cx="725.7" cy="107.3" r="1.0" fill="#0000FF"/><circle cx="753.7" cy="107.3" r="1.0" fill="#0000FF"/><line x1="669.0" y1="136.0" x2="671.6" y2="132.9" stroke="#0000FF" stroke-width="1.8" stroke-linecap="round"/><line x1="697.0" y1="136.0" x2="699.9" y2="131.9" stroke="#0000FF" stroke-width="1.8" stroke-linecap="round"/><polygon points="724.4,135.4 727.8,132.0 726.9,131.6 730.7,130.3 729.4,134.1 729.0,133.2 725.6,136.6" fill="#0000FF"/><polygon points="752.4,135.4 755.8,132.0 754.9,131.6 758.7,130.3 757.4,134.1 757.0,133.2 753.6,136.6" fill="#0000FF"/><polygon points="668.3,163.5 671.8,159.4 670.7,158.9 674.8,157.1 673.7,161.5 673.1,160.4 669.7,164.5" fill="#0000FF"/><polygon points="696.3,163.3 701.6,158.1 699.9,157.2 705.8,155.2 703.8,161.1 702.9,159.4 697.7,164.7" fill="#0000FF"/><polygon points="724.4,163.3 731.3,157.5 729.5,156.3 736.5,154.4 733.4,160.9 732.5,158.9 725.6,164.7" fill="#0000FF"/><polygon points="752.4,163.3 759.3,157.5 757.5,156.3 764.5,154.4 761.4,160.9 760.5,158.9 753.6,164.7" fill="#0000FF"/><polygon points="276.4,191.3 281.9,186.7 280.4,185.7 286.2,184.3 283.8,189.8 283.1,188.1 277.6,192.7" fill="#0000FF"/><polygon points="304.4,191.3 309.9,186.7 308.4,185.7 314.2,184.3 311.8,189.8 311.1,188.1 305.6,192.7" fill="#0000FF"/><polygon points="332.4,191.3 337.9,186.7 336.4,185.7 342.2,184.3 339.8,189.8 339.1,188.1 333.6,192.7" fill="#0000FF"/><polygon points="360.4,191.3 365.9,186.7 364.4,185.7 370.2,184.3 367.8,189.8 367.1,188.1 361.6,192.7" fill="#0000FF"/><polygon points="416.4,191.3 421.9,186.7 420.4,185.7 426.2,184.3 423.8,189.8 423.1,188.1 417.6,192.7" fill="#0000FF"/><polygon points="444.4,191.3 449.9,186.7 448.4,185.7 454.2,184.3 451.8,189.8 451.1,188.1 445.6,192.7" fill="#0000FF"/><polygon points="472.4,191.3 477.9,186.7 476.4,185.7 482.2,184.3 479.8,189.8 479.1,188.1 473.6,192.7" fill="#0000FF"/><polygon points="556.4,191.3 561.9,186.7 560.4,185.7 566.2,184.3 563.8,189.8 563.1,188.1 557.6,192.7" fill="#0000FF"/><polygon points="584.4,191.3 590.1,186.9 588.6,185.9 594.5,184.6 591.8,190.0 591.2,188.3 585.6,192.7" fill="#0000FF"/><polygon points="612.4,191.3 618.7,186.2 616.9,185.0 623.5,183.5 620.6,189.6 619.8,187.7 613.6,192.7" fill="#0000FF"/><polygon points="640.4,191.3 647.3,185.5 645.5,184.3 652.5,182.4 649.4,188.9 648.5,186.9 641.6,192.7" fill="#0000FF"/><polygon points="668.4,191.3 675.7,185.8 673.9,184.5 681.0,183.0 677.5,189.3 676.8,187.3 669.6,192.7" fill="#0000FF"/><polygon points="696.5,191.2 705.4,185.4 703.8,184.0 710.9,183.0 707.0,189.1 706.4,187.0 697.5,192.8" fill="#0000FF"/><polygon points="724.5,191.2 733.4,185.4 731.8,184.0 738.9,183.0 735.0,189.1 734.4,187.0 725.5,192.8" fill="#0000FF"/><polygon points="752.5,191.2 761.4,185.4 759.8,184.0 766.9,183.0 763.0,189.1 762.4,187.0 753.5,192.8" fill="#0000FF"/><polygon points="220.5,219.3 226.0,215.7 224.8,214.7 230.2,214.0 227.4,218.7 227.0,217.1 221.5,220.7" fill="#0000FF"/><polygon points="248.5,219.3 254.3,215.5 253.0,214.4 258.7,213.7 255.7,218.7 255.3,217.0 249.5,220.7" fill="#0000FF"/><polygon points="276.5,219.2 288.3,211.6 286.6,210.2 293.8,209.1 289.9,215.2 289.3,213.1 277.5,220.8" fill="#0000FF"/><polygon points="304.6,219.2 315.3,213.7 313.8,212.2 321.0,211.8 316.5,217.5 316.2,215.3 305.4,220.8" fill="#0000FF"/><polygon points="332.7,219.1 343.1,215.3 341.7,213.6 349.0,214.2 343.8,219.3 343.7,217.1 333.3,220.9" fill="#0000FF"/><polygon points="360.7,219.1 370.4,216.3 369.2,214.5 376.4,215.6 370.9,220.3 370.9,218.1 361.3,220.9" fill="#0000FF"/><polygon points="388.8,219.1 398.0,216.6 396.8,214.8 404.0,216.0 398.4,220.6 398.5,218.4 389.2,220.9" fill="#0000FF"/><polygon points="416.7,219.1 426.3,216.0 425.0,214.2 432.2,215.1 426.9,219.9 426.9,217.8 417.3,220.9" fill="#0000FF"/><polygon points="444.7,219.1 454.6,215.5 453.3,213.8 460.5,214.4 455.3,219.4 455.2,217.3 445.3,220.9" fill="#0000FF"/><polygon points="472.7,219.1 483.8,214.6 482.4,212.9 489.7,213.3 484.7,218.5 484.5,216.3 473.3,220.9" fill="#0000FF"/><polygon points="500.6,219.1 512.0,214.4 510.6,212.7 517.8,213.0 512.9,218.3 512.7,216.1 501.4,220.9" fill="#0000FF"/><polygon points="528.6,219.2 540.1,214.2 538.7,212.5 546.0,212.7 541.1,218.1 540.9,215.9 529.4,220.8" fill="#0000FF"/><polygon points="556.6,219.2 568.3,214.0 566.8,212.3 574.1,212.4 569.3,217.8 569.0,215.7 557.4,220.8" fill="#0000FF"/><polygon points="584.6,219.2 596.3,214.0 594.8,212.4 602.1,212.4 597.3,217.9 597.0,215.7 585.4,220.8" fill="#0000FF"/><polygon points="612.6,219.2 624.3,214.0 622.8,212.4 630.1,212.5 625.2,217.9 625.0,215.7 613.4,220.8" fill="#0000FF"/><polygon points="640.6,219.2 652.2,214.1 650.8,212.4 658.1,212.6 653.2,217.9 653.0,215.8 641.4,220.8" fill="#0000FF"/><polygon points="668.6,219.2 680.2,214.1 678.8,212.5 686.1,212.6 681.2,218.0 681.0,215.8 669.4,220.8" fill="#0000FF"/><polygon points="696.6,219.2 708.2,214.2 706.8,212.5 714.0,212.7 709.2,218.0 709.0,215.9 697.4,220.8" fill="#0000FF"/><polygon points="724.6,219.1 736.2,214.2 734.8,212.6 742.0,212.7 737.1,218.1 736.9,215.9 725.4,220.9" fill="#0000FF"/><polygon points="752.6,219.1 764.2,214.2 762.8,212.6 770.0,212.8 765.1,218.1 764.9,215.9 753.4,220.9" fill="#0000FF"/><polygon points="108.5,247.2 117.4,241.4 115.8,240.0 122.9,239.0 119.0,245.1 118.4,243.0 109.5,248.8" fill="#0000FF"/><polygon points="136.5,247.2 145.4,241.4 143.8,240.0 150.9,239.0 147.0,245.1 146.4,243.0 137.5,248.8" fill="#0000FF"/><polygon points="164.5,247.2 173.2,242.2 171.6,240.7 178.9,240.0 174.6,245.9 174.2,243.8 165.5,248.8" fill="#0000FF"/><polygon points="192.6,247.2 203.0,241.9 201.4,240.3 208.7,240.0 204.2,245.7 203.8,243.5 193.4,248.8" fill="#0000FF"/><polygon points="220.7,247.1 231.8,242.6 230.4,240.9 237.7,241.3 232.7,246.5 232.5,244.3 221.3,248.9" fill="#0000FF"/><polygon points="248.7,247.1 261.1,243.1 259.9,241.3 267.1,242.1 261.7,247.0 261.7,244.8 249.3,248.9" fill="#0000FF"/><polygon points="276.8,247.1 288.4,244.0 287.2,242.2 294.4,243.3 288.8,247.9 288.9,245.8 277.2,248.9" fill="#0000FF"/><polygon points="304.7,247.1 317.8,243.4 316.6,241.6 323.7,242.6 318.2,247.3 318.3,245.2 305.3,248.9" fill="#0000FF"/><polygon points="332.7,247.1 346.1,242.8 344.8,241.0 352.0,241.8 346.7,246.7 346.7,244.5 333.3,248.9" fill="#0000FF"/><polygon points="360.7,247.1 374.7,242.9 373.4,241.1 380.6,242.0 375.2,246.8 375.2,244.6 361.3,248.9" fill="#0000FF"/><polygon points="388.7,247.1 402.5,242.9 401.3,241.1 408.4,242.1 403.0,246.9 403.0,244.7 389.3,248.9" fill="#0000FF"/><polygon points="416.7,247.1 430.3,243.0 429.1,241.2 436.3,242.1 430.9,246.9 430.9,244.7 417.3,248.9" fill="#0000FF"/><polygon points="444.7,247.1 458.2,243.0 456.9,241.2 464.1,242.2 458.7,247.0 458.7,244.8 445.3,248.9" fill="#0000FF"/><polygon points="472.7,247.1 484.8,243.6 483.6,241.8 490.8,242.9 485.3,247.6 485.3,245.4 473.3,248.9" fill="#0000FF"/><polygon points="500.7,247.1 512.8,243.6 511.5,241.8 518.7,242.9 513.2,247.6 513.3,245.4 501.3,248.9" fill="#0000FF"/><polygon points="528.7,247.1 540.7,243.6 539.5,241.8 546.7,242.8 541.2,247.5 541.2,245.4 529.3,248.9" fill="#0000FF"/><polygon points="556.7,247.1 568.6,243.6 567.4,241.8 574.6,242.8 569.1,247.5 569.2,245.3 557.3,248.9" fill="#0000FF"/><polygon points="584.7,247.1 596.6,243.5 595.3,241.7 602.5,242.7 597.1,247.5 597.1,245.3 585.3,248.9" fill="#0000FF"/><polygon points="612.7,247.1 624.5,243.5 623.3,241.7 630.5,242.7 625.0,247.5 625.0,245.3 613.3,248.9" fill="#0000FF"/><polygon points="640.7,247.1 652.4,243.5 651.2,241.7 658.4,242.6 653.0,247.4 653.0,245.3 641.3,248.9" fill="#0000FF"/><polygon points="668.7,247.1 680.4,243.5 679.1,241.7 686.3,242.6 680.9,247.4 680.9,245.2 669.3,248.9" fill="#0000FF"/><polygon points="696.7,247.1 708.3,243.4 707.1,241.7 714.3,242.5 708.9,247.4 708.9,245.2 697.3,248.9" fill="#0000FF"/><polygon points="724.7,247.1 736.2,243.4 735.0,241.6 742.2,242.5 736.8,247.4 736.8,245.2 725.3,248.9" fill="#0000FF"/><polygon points="752.7,247.1 764.2,243.4 762.9,241.6 770.1,242.4 764.8,247.3 764.8,245.2 753.3,248.9" fill="#0000FF"/><polygon points="108.5,275.2 116.2,270.0 114.5,268.6 121.7,267.4 117.9,273.6 117.3,271.5 109.5,276.8" fill="#0000FF"/><polygon points="136.6,275.2 147.9,269.9 146.4,268.3 153.7,268.2 149.0,273.7 148.7,271.6 137.4,276.8" fill="#0000FF"/><polygon points="164.7,275.1 177.0,270.9 175.7,269.1 183.0,269.8 177.7,274.8 177.6,272.6 165.3,276.9" fill="#0000FF"/><polygon points="192.7,275.1 206.2,271.0 204.9,269.2 212.1,270.2 206.7,275.0 206.7,272.8 193.3,276.9" fill="#0000FF"/><polygon points="220.8,275.1 234.8,271.3 233.6,269.5 240.8,270.7 235.2,275.3 235.3,273.1 221.2,276.9" fill="#0000FF"/><polygon points="248.8,275.1 263.5,271.7 262.4,269.8 269.5,271.3 263.7,275.7 263.9,273.5 249.2,276.9" fill="#0000FF"/><polygon points="276.8,275.1 291.2,272.1 290.2,270.2 297.2,271.8 291.4,276.1 291.6,273.9 277.2,276.9" fill="#0000FF"/><polygon points="304.8,275.1 319.0,272.5 318.0,270.6 325.0,272.4 319.0,276.5 319.3,274.3 305.2,276.9" fill="#0000FF"/><polygon points="332.9,275.1 346.7,272.9 345.8,270.9 352.8,272.9 346.7,276.9 347.0,274.7 333.1,276.9" fill="#0000FF"/><polygon points="360.9,275.1 374.5,273.0 373.5,271.0 380.5,273.0 374.5,277.0 374.8,274.8 361.1,276.9" fill="#0000FF"/><polygon points="388.9,275.1 402.3,273.1 401.3,271.1 408.3,273.1 402.2,277.1 402.5,274.9 389.1,276.9" fill="#0000FF"/><polygon points="416.9,275.1 430.0,273.2 429.1,271.2 436.1,273.2 429.9,277.2 430.3,275.0 417.1,276.9" fill="#0000FF"/><polygon points="444.9,275.1 457.8,273.3 456.9,271.3 463.8,273.4 457.7,277.2 458.1,275.1 445.1,276.9" fill="#0000FF"/><polygon points="472.9,275.1 485.3,273.3 484.4,271.4 491.3,273.4 485.2,277.3 485.6,275.2 473.1,276.9" fill="#0000FF"/><polygon points="500.9,275.1 512.8,273.4 511.9,271.4 518.8,273.5 512.7,277.4 513.1,275.2 501.1,276.9" fill="#0000FF"/><polygon points="528.8,275.1 538.1,272.8 536.9,270.9 544.0,272.3 538.4,276.8 538.5,274.6 529.2,276.9" fill="#0000FF"/><polygon points="556.8,275.1 565.4,272.8 564.2,271.0 571.4,272.2 565.8,276.8 565.9,274.6 557.2,276.9" fill="#0000FF"/><polygon points="584.8,275.1 592.9,272.9 591.8,271.0 598.7,272.2 593.3,276.8 593.4,274.7 585.2,276.9" fill="#0000FF"/><polygon points="612.7,275.1 620.5,272.9 619.4,271.1 626.1,272.3 621.0,276.8 621.0,274.7 613.3,276.9" fill="#0000FF"/><polygon points="640.7,275.1 647.8,272.9 646.8,271.4 653.0,272.3 648.4,276.6 648.4,274.7 641.3,276.9" fill="#0000FF"/><polygon points="668.7,275.2 674.9,272.8 673.9,271.5 679.5,272.0 675.7,276.1 675.6,274.4 669.3,276.8" fill="#0000FF"/><polygon points="696.6,275.2 702.0,272.7 701.1,271.7 706.1,271.8 702.9,275.7 702.8,274.3 697.4,276.8" fill="#0000FF"/><polygon points="724.6,275.2 730.0,272.7 729.1,271.7 734.1,271.8 730.9,275.7 730.8,274.3 725.4,276.8" fill="#0000FF"/><polygon points="752.6,275.2 758.0,272.7 757.1,271.7 762.1,271.8 758.9,275.7 758.8,274.3 753.4,276.8" fill="#0000FF"/><polygon points="80.6,303.2 90.6,298.5 89.2,296.9 96.4,296.8 91.7,302.3 91.4,300.2 81.4,304.8" fill="#0000FF"/><polygon points="108.7,303.1 120.1,299.2 118.8,297.5 126.0,298.1 120.8,303.1 120.7,300.9 109.3,304.9" fill="#0000FF"/><polygon points="136.9,303.1 147.8,301.4 146.8,299.4 153.8,301.3 147.7,305.3 148.1,303.2 137.1,304.9" fill="#0000FF"/><polygon points="164.9,303.1 175.5,302.1 174.7,300.1 181.5,302.6 175.2,306.1 175.7,304.0 165.1,304.9" fill="#0000FF"/><polygon points="193.0,303.1 203.6,303.1 202.9,301.0 209.5,304.0 202.9,307.0 203.6,304.9 193.0,304.9" fill="#0000FF"/><polygon points="221.0,303.1 231.6,303.1 230.9,301.0 237.6,304.0 230.9,307.0 231.6,304.9 221.0,304.9" fill="#0000FF"/><polygon points="249.0,303.1 259.7,303.1 259.0,301.0 265.6,304.0 259.0,307.0 259.7,304.9 249.0,304.9" fill="#0000FF"/><polygon points="277.0,303.1 287.7,303.1 287.1,301.0 293.6,304.0 287.1,307.0 287.7,304.9 277.0,304.9" fill="#0000FF"/><polygon points="305.0,303.1 315.8,303.1 315.1,301.0 321.7,304.0 315.1,307.0 315.8,304.9 305.0,304.9" fill="#0000FF"/><polygon points="333.0,303.1 343.8,303.1 343.1,301.0 349.8,304.0 343.1,307.0 343.8,304.9 333.0,304.9" fill="#0000FF"/><polygon points="361.0,303.1 371.9,303.1 371.2,301.0 377.8,304.0 371.2,307.0 371.9,304.9 361.0,304.9" fill="#0000FF"/><polygon points="389.0,303.1 399.9,303.1 399.2,301.0 405.9,304.0 399.2,307.0 399.9,304.9 389.0,304.9" fill="#0000FF"/><polygon points="417.0,303.1 428.0,303.1 427.3,301.0 433.9,304.0 427.3,307.0 428.0,304.9 417.0,304.9" fill="#0000FF"/><polygon points="445.0,303.1 456.0,303.1 455.4,301.0 461.9,304.0 455.4,307.0 456.0,304.9 445.0,304.9" fill="#0000FF"/><polygon points="473.0,303.1 484.1,303.1 483.4,301.0 490.0,304.0 483.4,307.0 484.1,304.9 473.0,304.9" fill="#0000FF"/><polygon points="500.8,303.1 509.3,301.6 508.3,299.7 515.3,301.5 509.4,305.6 509.7,303.4 501.2,304.9" fill="#0000FF"/><polygon points="528.9,303.2 534.1,302.2 533.5,301.2 537.9,302.4 534.2,305.1 534.4,303.9 529.1,304.8" fill="#0000FF"/><polygon points="556.8,303.2 561.5,302.2 560.9,301.4 564.8,302.3 561.7,304.8 561.8,303.8 557.2,304.8" fill="#0000FF"/><polygon points="584.8,303.2 588.8,302.1 588.3,301.5 591.8,302.2 589.1,304.5 589.2,303.7 585.2,304.8" fill="#0000FF"/><line x1="613.0" y1="304.0" x2="619.3" y2="302.3" stroke="#0000FF" stroke-width="1.8" stroke-linecap="round"/><line x1="641.0" y1="304.0" x2="646.8" y2="302.4" stroke="#0000FF" stroke-width="1.8" stroke-linecap="round"/><line x1="669.0" y1="304.0" x2="675.3" y2="302.3" stroke="#0000FF" stroke-width="1.8" stroke-linecap="round"/><polygon points="696.8,303.2 700.8,302.1 700.3,301.5 703.8,302.2 701.1,304.5 701.2,303.7 697.2,304.8" fill="#0000FF"/><polygon points="724.8,303.2 728.8,302.1 728.3,301.5 731.8,302.2 729.1,304.5 729.2,303.7 725.2,304.8" fill="#0000FF"/><polygon points="752.8,303.2 756.8,302.1 756.3,301.5 759.8,302.2 757.1,304.5 757.2,303.7 753.2,304.8" fill="#0000FF"/><polygon points="80.8,331.2 86.8,329.6 86.0,328.3 91.1,329.3 87.2,332.7 87.3,331.2 81.2,332.8" fill="#0000FF"/><polygon points="108.9,331.2 114.7,330.1 114.0,328.9 118.8,330.3 114.8,333.2 115.0,331.8 109.1,332.8" fill="#0000FF"/><polygon points="136.9,331.1 144.9,330.4 144.1,328.4 150.4,330.8 144.7,334.3 145.1,332.2 137.1,332.9" fill="#0000FF"/><polygon points="165.0,331.1 173.3,330.6 172.5,328.6 179.0,331.3 172.8,334.6 173.4,332.5 165.0,332.9" fill="#0000FF"/><polygon points="193.0,331.1 200.7,330.7 200.0,328.8 206.0,331.3 200.3,334.5 200.8,332.5 193.0,332.9" fill="#0000FF"/><polygon points="220.9,331.2 227.4,330.6 226.8,329.1 232.0,331.0 227.2,333.9 227.6,332.3 221.1,332.8" fill="#0000FF"/><polygon points="248.9,331.2 253.9,330.3 253.3,329.3 257.5,330.5 254.0,333.0 254.2,331.9 249.1,332.8" fill="#0000FF"/><polygon points="276.9,331.2 281.9,330.3 281.3,329.3 285.5,330.5 282.0,333.0 282.2,331.9 277.1,332.8" fill="#0000FF"/><polygon points="304.9,331.2 310.8,330.3 310.1,329.1 314.9,330.6 310.8,333.4 311.0,332.0 305.1,332.8" fill="#0000FF"/><polygon points="333.0,331.2 338.9,330.8 338.4,329.5 343.0,331.5 338.6,333.9 339.0,332.5 333.0,332.8" fill="#0000FF"/><polygon points="361.0,331.1 366.4,331.1 365.9,330.0 370.0,332.0 365.9,334.0 366.4,332.9 361.0,332.9" fill="#0000FF"/><polygon points="389.0,331.1 393.5,331.1 393.1,330.4 396.5,332.0 393.1,333.6 393.5,332.9 389.0,332.9" fill="#0000FF"/><polygon points="417.0,331.1 421.5,331.1 421.1,330.4 424.5,332.0 421.1,333.6 421.5,332.9 417.0,332.9" fill="#0000FF"/><line x1="445.0" y1="332.0" x2="451.0" y2="332.0" stroke="#0000FF" stroke-width="1.8" stroke-linecap="round"/><line x1="473.0" y1="332.0" x2="477.0" y2="332.0" stroke="#0000FF" stroke-width="1.8" stroke-linecap="round"/><line x1="501.0" y1="332.0" x2="505.2" y2="331.6" stroke="#0000FF" stroke-width="1.8" stroke-linecap="round"/><line x1="529.0" y1="332.0" x2="533.4" y2="331.1" stroke="#0000FF" stroke-width="1.8" stroke-linecap="round"/><line x1="557.0" y1="332.0" x2="561.5" y2="331.0" stroke="#0000FF" stroke-width="1.8" stroke-linecap="round"/><line x1="585.0" y1="332.0" x2="589.5" y2="331.0" stroke="#0000FF" stroke-width="1.8" stroke-linecap="round"/><line x1="613.0" y1="332.0" x2="617.6" y2="330.9" stroke="#0000FF" stroke-width="1.8" stroke-linecap="round"/><line x1="641.0" y1="332.0" x2="645.7" y2="330.8" stroke="#0000FF" stroke-width="1.8" stroke-linecap="round"/><line x1="669.0" y1="332.0" x2="673.8" y2="330.8" stroke="#0000FF" stroke-width="1.8" stroke-linecap="round"/><line x1="697.0" y1="332.0" x2="701.8" y2="330.7" stroke="#0000FF" stroke-width="1.8" stroke-linecap="round"/><line x1="725.0" y1="332.0" x2="729.8" y2="330.7" stroke="#0000FF" stroke-width="1.8" stroke-linecap="round"/><line x1="753.0" y1="332.0" x2="757.8" y2="330.7" stroke="#0000FF" stroke-width="1.8" stroke-linecap="round"/><polygon points="80.5,359.3 85.4,355.5 84.1,354.6 89.3,353.5 87.0,358.3 86.4,356.8 81.5,360.7" fill="#0000FF"/><polygon points="108.7,359.1 115.7,356.6 114.5,355.1 120.7,355.7 116.4,360.2 116.3,358.3 109.3,360.9" fill="#0000FF"/><polygon points="136.8,359.2 142.6,357.9 141.9,356.7 146.8,357.9 142.8,361.0 143.0,359.6 137.2,360.8" fill="#0000FF"/><circle cx="166.0" cy="360.0" r="1.0" fill="#0000FF"/><circle cx="194.0" cy="360.1" r="1.0" fill="#0000FF"/><circle cx="222.0" cy="360.3" r="1.0" fill="#0000FF"/><circle cx="249.9" cy="360.4" r="1.0" fill="#0000FF"/><circle cx="277.9" cy="360.5" r="1.0" fill="#0000FF"/><line x1="305.0" y1="360.0" x2="308.8" y2="361.4" stroke="#0000FF" stroke-width="1.8" stroke-linecap="round"/><line x1="333.0" y1="360.0" x2="338.6" y2="362.1" stroke="#0000FF" stroke-width="1.8" stroke-linecap="round"/><line x1="361.0" y1="360.0" x2="366.6" y2="362.1" stroke="#0000FF" stroke-width="1.8" stroke-linecap="round"/><line x1="389.0" y1="360.0" x2="392.6" y2="361.7" stroke="#0000FF" stroke-width="1.8" stroke-linecap="round"/><circle cx="417.9" cy="360.4" r="1.0" fill="#0000FF"/><circle cx="445.9" cy="360.4" r="1.0" fill="#0000FF"/><circle cx="473.9" cy="360.4" r="1.0" fill="#0000FF"/><circle cx="501.9" cy="360.4" r="1.0" fill="#0000FF"/><circle cx="529.9" cy="360.4" r="1.0" fill="#0000FF"/><line x1="557.0" y1="360.0" x2="559.9" y2="360.8" stroke="#0000FF" stroke-width="1.8" stroke-linecap="round"/><line x1="585.0" y1="360.0" x2="588.1" y2="360.8" stroke="#0000FF" stroke-width="1.8" stroke-linecap="round"/><line x1="613.0" y1="360.0" x2="616.3" y2="360.9" stroke="#0000FF" stroke-width="1.8" stroke-linecap="round"/><line x1="641.0" y1="360.0" x2="644.5" y2="360.9" stroke="#0000FF" stroke-width="1.8" stroke-linecap="round"/><line x1="669.0" y1="360.0" x2="672.7" y2="361.0" stroke="#0000FF" stroke-width="1.8" stroke-linecap="round"/><line x1="697.0" y1="360.0" x2="700.9" y2="361.0" stroke="#0000FF" stroke-width="1.8" stroke-linecap="round"/><line x1="725.0" y1="360.0" x2="728.9" y2="361.0" stroke="#0000FF" stroke-width="1.8" stroke-linecap="round"/><line x1="753.0" y1="360.0" x2="756.9" y2="361.0" stroke="#0000FF" stroke-width="1.8" stroke-linecap="round"/><circle cx="249.8" cy="388.6" r="1.0" fill="#0000FF"/><circle cx="278.0" cy="388.7" r="1.0" fill="#0000FF"/><line x1="305.0" y1="388.0" x2="307.5" y2="389.7" stroke="#0000FF" stroke-width="1.8" stroke-linecap="round"/><line x1="333.0" y1="388.0" x2="335.5" y2="389.7" stroke="#0000FF" stroke-width="1.8" stroke-linecap="round"/><line x1="361.0" y1="388.0" x2="363.5" y2="389.7" stroke="#0000FF" stroke-width="1.8" stroke-linecap="round"/><line x1="389.0" y1="388.0" x2="391.5" y2="389.7" stroke="#0000FF" stroke-width="1.8" stroke-linecap="round"/><line x1="417.0" y1="388.0" x2="419.5" y2="389.7" stroke="#0000FF" stroke-width="1.8" stroke-linecap="round"/><line x1="445.0" y1="388.0" x2="447.5" y2="389.7" stroke="#0000FF" stroke-width="1.8" stroke-linecap="round"/><circle cx="473.8" cy="388.6" r="1.0" fill="#0000FF"/><circle cx="501.8" cy="388.6" r="1.0" fill="#0000FF"/><circle cx="529.8" cy="388.6" r="1.0" fill="#0000FF"/><line x1="557.0" y1="388.0" x2="559.6" y2="389.5" stroke="#0000FF" stroke-width="1.8" stroke-linecap="round"/><line x1="585.0" y1="388.0" x2="588.0" y2="389.6" stroke="#0000FF" stroke-width="1.8" stroke-linecap="round"/><line x1="613.0" y1="388.0" x2="616.4" y2="389.8" stroke="#0000FF" stroke-width="1.8" stroke-linecap="round"/><line x1="641.0" y1="388.0" x2="644.7" y2="389.9" stroke="#0000FF" stroke-width="1.8" stroke-linecap="round"/><line x1="669.0" y1="388.0" x2="673.1" y2="390.0" stroke="#0000FF" stroke-width="1.8" stroke-linecap="round"/><line x1="697.0" y1="388.0" x2="701.5" y2="390.1" stroke="#0000FF" stroke-width="1.8" stroke-linecap="round"/><line x1="725.0" y1="388.0" x2="729.5" y2="390.1" stroke="#0000FF" stroke-width="1.8" stroke-linecap="round"/><line x1="753.0" y1="388.0" x2="757.5" y2="390.1" stroke="#0000FF" stroke-width="1.8" stroke-linecap="round"/><circle cx="193.6" cy="416.6" r="1.0" fill="#0000FF"/><circle cx="221.6" cy="416.6" r="1.0" fill="#0000FF"/><circle cx="249.6" cy="416.6" r="1.0" fill="#0000FF"/><circle cx="277.7" cy="416.7" r="1.0" fill="#0000FF"/><circle cx="305.7" cy="416.7" r="1.0" fill="#0000FF"/><line x1="333.0" y1="416.0" x2="334.9" y2="418.3" stroke="#0000FF" stroke-width="1.8" stroke-linecap="round"/><line x1="361.0" y1="416.0" x2="363.0" y2="418.2" stroke="#0000FF" stroke-width="1.8" stroke-linecap="round"/><line x1="389.0" y1="416.0" x2="391.1" y2="418.2" stroke="#0000FF" stroke-width="1.8" stroke-linecap="round"/><line x1="417.0" y1="416.0" x2="419.1" y2="418.1" stroke="#0000FF" stroke-width="1.8" stroke-linecap="round"/><circle cx="445.7" cy="416.7" r="1.0" fill="#0000FF"/><circle cx="473.7" cy="416.7" r="1.0" fill="#0000FF"/><circle cx="501.7" cy="416.7" r="1.0" fill="#0000FF"/><circle cx="529.7" cy="416.7" r="1.0" fill="#0000FF"/><circle cx="557.7" cy="416.7" r="1.0" fill="#0000FF"/><circle cx="585.7" cy="416.7" r="1.0" fill="#0000FF"/><circle cx="613.7" cy="416.7" r="1.0" fill="#0000FF"/><line x1="641.0" y1="416.0" x2="643.1" y2="418.1" stroke="#0000FF" stroke-width="1.8" stroke-linecap="round"/><line x1="669.0" y1="416.0" x2="672.5" y2="419.5" stroke="#0000FF" stroke-width="1.8" stroke-linecap="round"/><line x1="697.0" y1="416.0" x2="700.9" y2="419.9" stroke="#0000FF" stroke-width="1.8" stroke-linecap="round"/><line x1="725.0" y1="416.0" x2="727.3" y2="417.9" stroke="#0000FF" stroke-width="1.8" stroke-linecap="round"/><circle cx="753.8" cy="416.6" r="1.0" fill="#0000FF"/><circle cx="333.5" cy="444.9" r="1.0" fill="#0000FF"/><circle cx="389.5" cy="444.9" r="1.0" fill="#0000FF"/><circle cx="417.6" cy="445.0" r="1.0" fill="#0000FF"/><circle cx="445.6" cy="445.0" r="1.0" fill="#0000FF"/><line x1="501.0" y1="444.0" x2="501.0" y2="450.0" stroke="#0000FF" stroke-width="1.8" stroke-linecap="round"/><line x1="529.0" y1="444.0" x2="530.6" y2="449.8" stroke="#0000FF" stroke-width="1.8" stroke-linecap="round"/><circle cx="557.6" cy="444.8" r="1.0" fill="#0000FF"/><circle cx="585.9" cy="444.9" r="1.0" fill="#0000FF"/><line x1="613.0" y1="444.0" x2="615.3" y2="445.9" stroke="#0000FF" stroke-width="1.8" stroke-linecap="round"/><line x1="641.0" y1="444.0" x2="644.2" y2="448.5" stroke="#0000FF" stroke-width="1.8" stroke-linecap="round"/><line x1="669.0" y1="444.0" x2="671.6" y2="447.1" stroke="#0000FF" stroke-width="1.8" stroke-linecap="round"/><circle cx="697.7" cy="444.7" r="1.0" fill="#0000FF"/><line x1="529.0" y1="472.0" x2="530.5" y2="474.6" stroke="#0000FF" stroke-width="1.8" stroke-linecap="round"/><line x1="557.0" y1="472.0" x2="558.5" y2="474.6" stroke="#0000FF" stroke-width="1.8" stroke-linecap="round"/><line x1="613.0" y1="472.0" x2="614.5" y2="474.6" stroke="#0000FF" stroke-width="1.8" stroke-linecap="round"/><line x1="641.0" y1="472.0" x2="642.5" y2="474.6" stroke="#0000FF" stroke-width="1.8" stroke-linecap="round"/></g><path d="M53.5 24.3 L758.5 24.3 L759.5 55 L759.0 55.0 C758.3 55.1 756.4 55.1 754.6 55.6 C752.8 56.1 750.0 56.7 748.0 58.0 C746.0 59.3 744.2 62.3 742.0 63.7 C739.8 65.1 736.0 65.8 734.0 66.8 C732.0 67.8 730.7 68.5 729.7 70.0 C728.7 71.5 729.0 74.8 728.0 76.0 C727.0 77.2 725.3 76.8 723.5 77.4 C721.7 78.0 719.5 79.1 717.0 80.0 C714.5 80.9 710.7 82.0 708.0 83.0 C705.3 84.0 702.1 84.9 700.0 86.0 C697.9 87.1 696.0 88.3 694.6 90.0 C693.2 91.7 693.1 94.2 691.5 96.4 C689.9 98.6 686.9 101.8 684.5 104.0 C682.1 106.2 678.9 108.4 676.7 110.4 C674.5 112.4 672.2 114.1 671.0 116.6 C669.8 119.1 669.7 123.5 669.0 126.0 C668.3 128.5 667.5 130.0 666.6 132.5 C665.7 135.0 664.6 139.6 663.5 141.8 C662.4 144.0 660.9 145.0 660.0 146.5 C659.1 148.0 658.5 149.2 658.0 151.0 C657.5 152.8 658.0 156.2 657.0 158.0 C656.0 159.8 653.8 160.7 652.0 162.0 C650.2 163.3 647.4 164.5 645.6 166.0 C643.8 167.5 642.1 169.6 641.0 171.4 C639.9 173.2 640.0 175.5 639.0 177.0 C638.0 178.5 636.1 179.3 634.7 180.7 C633.3 182.1 631.1 184.0 630.0 185.5 C628.9 187.0 629.0 188.8 628.0 189.8 C627.0 190.8 625.3 191.3 624.0 192.0 C622.7 192.7 621.1 193.6 620.0 194.0 C618.9 194.4 618.2 194.6 617.0 194.8 C615.8 195.0 613.9 195.1 612.5 195.0 C611.1 194.9 609.2 194.6 608.0 194.2 C606.8 193.8 606.0 193.1 605.0 192.5 C604.0 191.9 603.1 191.4 602.0 190.5 C600.9 189.6 599.3 188.1 598.0 187.0 C596.7 185.9 595.3 184.5 594.0 183.5 C592.7 182.5 591.3 181.3 590.0 180.5 C588.7 179.7 587.6 178.9 586.0 178.5 C584.4 178.1 581.8 177.8 580.0 177.7 C578.2 177.6 576.6 177.7 575.0 178.0 C573.4 178.3 571.4 179.1 570.0 179.5 C568.6 179.9 567.6 180.9 566.0 180.8 C564.4 180.7 561.6 179.2 560.0 179.0 C558.4 178.8 557.6 179.1 556.0 179.3 C554.4 179.5 551.8 179.9 550.0 180.3 C548.2 180.7 546.4 181.1 545.0 182.0 C543.6 182.9 542.1 184.6 541.0 186.0 C539.9 187.4 539.0 188.9 538.0 190.5 C537.0 192.1 536.0 194.6 535.0 196.0 C534.0 197.4 533.1 198.5 532.0 199.5 C530.9 200.5 529.6 201.4 528.0 202.0 C526.4 202.6 524.1 203.1 522.0 203.3 C519.9 203.5 516.9 203.4 515.0 203.2 C513.1 203.0 511.4 202.5 510.0 202.0 C508.6 201.5 507.3 200.6 506.0 200.0 C504.7 199.4 503.0 198.2 502.0 198.0 C501.0 197.8 500.8 198.2 500.0 198.5 C499.2 198.8 498.3 200.2 497.0 200.0 C495.7 199.8 493.4 198.0 492.0 197.0 C490.6 196.0 489.3 194.4 488.0 193.5 C486.7 192.6 485.6 191.4 484.0 191.2 C482.4 191.0 480.2 191.8 478.0 192.2 C475.8 192.6 472.9 193.8 470.0 194.0 C467.1 194.2 463.2 193.5 460.0 193.3 C456.8 193.1 453.2 193.2 450.0 193.0 C446.8 192.8 442.9 192.5 440.0 192.3 C437.1 192.1 434.4 192.0 432.0 192.0 C429.6 192.0 427.2 192.3 425.0 192.5 C422.8 192.7 419.9 192.8 418.0 193.3 C416.1 193.8 414.6 194.7 413.0 195.5 C411.4 196.3 409.6 197.2 408.0 198.0 C406.4 198.8 404.8 200.2 403.0 200.7 C401.2 201.2 398.8 201.0 397.0 201.0 C395.2 201.0 393.4 200.9 392.0 200.5 C390.6 200.1 389.1 199.1 388.0 198.5 C386.9 197.9 386.3 196.7 385.0 196.5 C383.7 196.3 381.6 197.7 380.0 197.5 C378.4 197.3 376.4 195.6 375.0 195.0 C373.6 194.4 372.3 194.0 371.0 194.0 C369.7 194.0 368.4 195.2 367.0 195.0 C365.6 194.8 363.6 193.3 362.0 193.0 C360.4 192.7 358.6 192.8 357.0 193.0 C355.4 193.2 353.8 193.9 352.0 194.2 C350.2 194.5 347.9 195.0 346.0 195.0 C344.1 195.0 341.9 194.4 340.0 194.0 C338.1 193.6 335.6 192.6 334.0 192.2 C332.4 191.8 331.6 191.7 330.0 191.8 C328.4 191.9 325.9 192.2 324.0 192.6 C322.1 193.0 319.9 193.5 318.0 194.0 C316.1 194.5 313.8 195.2 312.0 195.5 C310.2 195.8 308.6 195.9 307.0 195.7 C305.4 195.5 303.6 195.0 302.0 194.5 C300.4 194.0 298.6 193.1 297.0 192.8 C295.4 192.5 293.3 192.4 292.0 192.6 C290.7 192.8 290.1 193.5 289.0 194.0 C287.9 194.5 286.8 195.1 285.0 195.5 C283.2 195.9 280.4 196.3 278.0 196.6 C275.6 196.9 272.6 197.3 270.0 197.5 C267.4 197.7 264.4 198.0 262.0 198.0 C259.6 198.0 257.7 197.9 255.0 197.7 C252.3 197.5 247.7 197.1 245.0 197.0 C242.3 196.9 239.9 196.8 238.0 197.0 C236.1 197.2 234.4 197.4 233.0 198.0 C231.6 198.6 230.1 199.7 229.0 201.0 C227.9 202.3 227.0 204.2 226.0 206.0 C225.0 207.8 223.8 210.2 223.0 212.0 C222.2 213.8 222.0 215.8 221.0 217.0 C220.0 218.2 218.4 219.3 217.0 219.8 C215.6 220.3 213.6 220.1 212.0 220.3 C210.4 220.5 208.3 220.4 207.0 221.0 C205.7 221.6 205.1 222.7 204.0 224.0 C202.9 225.3 201.3 227.8 200.0 229.0 C198.7 230.2 197.6 230.7 196.0 231.5 C194.4 232.3 191.6 233.4 190.0 234.0 C188.4 234.6 187.6 235.2 186.0 235.5 C184.4 235.8 182.2 236.0 180.0 236.0 C177.8 236.0 174.4 235.8 172.0 235.5 C169.6 235.2 166.9 234.3 165.0 234.0 C163.1 233.7 161.9 233.7 160.0 233.5 C158.1 233.3 154.6 232.9 153.0 233.0 C151.4 233.1 151.3 233.4 150.0 234.0 C148.7 234.6 147.1 235.5 145.0 236.5 C142.9 237.5 140.2 239.1 137.0 240.0 C133.8 240.9 128.5 241.0 125.0 242.0 C121.5 243.0 117.6 245.2 115.0 246.0 C112.4 246.8 110.6 246.4 109.0 247.0 C107.4 247.6 106.3 248.7 105.0 250.0 C103.7 251.3 102.0 253.4 101.0 255.0 C100.0 256.6 99.7 258.6 99.0 260.0 C98.3 261.4 97.6 262.8 96.7 264.0 C95.8 265.2 94.8 266.7 93.6 267.8 C92.4 268.9 89.7 270.2 89.0 271.0 C88.3 271.8 89.6 271.8 89.0 273.0 C88.4 274.2 86.3 276.5 85.0 278.7 C83.7 280.9 81.9 283.8 81.0 286.5 C80.1 289.2 80.0 293.8 79.6 295.8 C79.2 297.8 79.3 299.4 78.8 299.0 C78.3 298.6 77.6 295.1 76.5 293.5 C75.4 291.9 73.3 289.7 71.8 288.8 C70.3 287.9 68.2 287.6 67.0 287.7 C65.8 287.8 64.7 288.4 64.0 289.6 C63.3 290.8 62.4 293.3 62.5 295.0 C62.6 296.7 64.4 298.9 64.8 300.5 C65.2 302.1 65.3 303.5 64.8 305.0 C64.3 306.5 63.6 308.9 61.7 309.8 C59.8 310.7 54.4 310.6 53.0 310.8 L53.5 310.8 Z" fill="#FEE0AB"/><path d="M53.5 335.5 L53.0 335.5 C53.6 335.2 55.9 334.1 57.0 333.5 C58.1 332.9 58.9 331.9 60.0 331.6 C61.1 331.3 62.9 331.4 64.0 331.6 C65.1 331.8 66.0 333.1 67.0 333.0 C68.0 332.9 68.7 331.2 70.0 331.0 C71.3 330.8 73.2 331.3 75.0 331.6 C76.8 331.9 79.3 332.5 81.0 333.0 C82.7 333.5 84.5 334.3 85.8 334.5 C87.1 334.7 88.5 333.8 89.0 334.0 C89.5 334.2 89.9 335.0 89.0 336.0 C88.1 337.0 85.0 338.7 83.5 340.0 C82.0 341.3 80.1 342.4 79.6 344.0 C79.1 345.6 80.0 348.0 80.4 350.0 C80.8 352.0 81.6 354.3 82.0 356.5 C82.4 358.7 82.2 361.9 82.7 364.0 C83.2 366.1 83.9 368.6 85.0 369.7 C86.1 370.8 88.7 369.9 89.7 371.0 C90.7 372.1 90.4 374.8 91.0 376.7 C91.6 378.6 92.7 381.1 93.6 383.0 C94.5 384.9 95.5 387.0 96.7 388.4 C97.9 389.8 99.7 390.8 101.4 392.0 C103.1 393.2 105.6 394.5 107.6 396.0 C109.6 397.5 112.3 399.8 114.0 401.6 C115.7 403.4 117.1 405.3 118.5 407.0 C119.9 408.7 121.5 410.9 123.0 412.5 C124.5 414.1 126.1 416.0 128.0 417.0 C129.9 418.0 132.5 417.2 135.0 418.5 C137.5 419.8 141.0 422.9 143.5 425.0 C146.0 427.1 148.1 430.0 150.5 431.6 C152.9 433.2 156.1 433.6 158.7 435.0 C161.3 436.4 164.2 438.7 167.0 440.3 C169.8 441.9 172.6 443.7 176.3 445.0 C180.0 446.3 185.5 447.3 190.4 448.5 C195.3 449.7 201.6 451.3 206.8 452.5 C212.0 453.7 217.7 454.8 223.0 456.0 C228.3 457.2 235.7 459.1 239.7 459.8 C243.7 460.5 245.4 460.7 248.0 460.3 C250.6 459.9 253.6 458.4 256.0 457.5 C258.4 456.6 260.4 455.2 263.0 454.4 C265.6 453.6 269.1 453.4 272.5 452.8 C275.9 452.2 280.6 451.4 284.0 450.4 C287.4 449.4 290.2 447.7 293.6 446.7 C297.0 445.7 302.0 444.9 305.4 444.3 C308.8 443.7 312.5 443.1 314.7 442.7 C316.9 442.3 318.2 441.3 319.0 441.5 C319.8 441.7 319.7 443.2 319.6 443.9 C319.5 444.6 318.2 445.0 318.3 445.7 C318.4 446.4 319.3 447.3 320.0 448.0 C320.7 448.7 321.2 449.5 322.5 450.0 C323.8 450.5 326.0 450.8 328.0 451.0 C330.0 451.2 332.9 451.2 335.0 451.2 C337.1 451.2 339.4 451.3 341.0 451.0 C342.6 450.7 344.1 450.3 345.0 449.5 C345.9 448.7 346.0 447.2 346.5 446.0 C347.0 444.8 347.4 443.1 348.0 442.0 C348.6 440.9 349.5 439.8 350.5 439.0 C351.5 438.2 352.8 437.6 354.0 437.3 C355.2 437.0 356.7 436.8 358.0 437.0 C359.3 437.2 360.7 437.8 362.0 438.5 C363.3 439.2 364.7 440.5 366.0 441.5 C367.3 442.5 368.6 443.7 370.0 444.5 C371.4 445.3 373.2 446.2 375.0 446.8 C376.8 447.4 378.9 447.8 381.0 448.2 C383.1 448.6 385.8 448.9 388.0 449.5 C390.2 450.1 392.6 451.3 395.0 451.8 C397.4 452.3 400.6 452.5 403.0 452.7 C405.4 452.9 407.8 452.9 410.0 452.8 C412.2 452.7 414.6 452.4 417.0 451.8 C419.4 451.2 422.4 450.1 425.0 449.3 C427.6 448.5 430.6 447.5 433.0 446.8 C435.4 446.1 437.9 445.7 440.0 444.8 C442.1 443.9 444.0 442.3 446.0 441.0 C448.0 439.7 451.0 437.5 452.5 436.7 C454.0 435.9 454.5 436.3 455.6 436.3 C456.7 436.3 458.3 437.3 459.5 437.0 C460.7 436.7 462.0 435.9 463.4 434.7 C464.8 433.5 466.8 431.2 468.0 429.3 C469.2 427.4 470.0 424.9 471.0 423.0 C472.0 421.1 473.5 419.2 474.3 417.6 C475.1 416.0 475.4 414.0 476.0 413.0 C476.6 412.0 477.3 411.4 478.0 411.4 C478.7 411.4 480.2 411.9 480.5 413.0 C480.8 414.1 479.7 416.7 479.7 418.4 C479.7 420.1 480.2 421.9 480.8 423.8 C481.4 425.7 482.7 428.1 483.6 430.0 C484.5 431.9 485.9 433.6 486.7 435.5 C487.5 437.4 488.2 439.7 488.3 441.7 C488.4 443.7 487.5 446.0 487.5 448.0 C487.5 450.0 487.7 452.3 488.3 454.0 C488.9 455.7 489.9 457.5 491.4 458.9 C492.9 460.3 495.4 461.8 497.6 462.8 C499.8 463.8 502.6 464.5 505.4 465.0 C508.2 465.5 513.3 465.7 514.8 465.9 C516.3 466.1 515.8 467.2 514.8 466.3 C513.8 465.4 510.8 462.6 508.5 460.4 C506.2 458.2 503.1 455.1 500.7 452.6 C498.3 450.1 494.6 446.0 493.7 444.8 C492.8 443.6 493.7 443.6 495.3 444.8 C496.9 446.0 501.0 449.8 503.9 452.6 C506.8 455.4 510.5 460.0 513.2 462.0 C515.9 464.0 518.3 464.1 521.0 465.0 C523.7 465.9 527.1 466.8 530.3 467.4 C533.5 468.0 538.2 468.7 541.2 469.0 C544.2 469.3 546.5 469.6 549.0 469.5 C551.5 469.4 554.6 469.0 556.8 468.2 C559.0 467.4 561.3 465.4 563.0 464.3 C564.7 463.2 566.2 461.7 567.7 461.2 C569.2 460.7 570.4 460.8 572.4 461.2 C574.4 461.6 577.2 462.5 580.0 463.5 C582.8 464.5 586.8 466.5 590.0 467.5 C593.2 468.5 596.8 469.5 600.0 470.0 C603.2 470.5 606.8 470.7 610.0 470.6 C613.2 470.5 617.4 469.4 620.0 469.5 C622.6 469.6 624.1 470.9 626.0 471.5 C627.9 472.1 630.0 472.9 631.8 473.0 C633.6 473.1 635.5 472.5 637.0 472.3 C638.5 472.1 639.7 471.8 641.0 471.8 C642.3 471.8 643.9 472.4 645.0 472.6 C646.1 472.8 646.6 473.3 647.9 473.0 C649.2 472.7 651.1 471.2 653.0 470.6 C654.9 470.0 657.7 469.5 660.0 469.0 C662.3 468.5 665.3 467.9 667.3 467.2 C669.3 466.5 671.0 465.2 672.4 464.7 C673.8 464.2 674.7 464.3 676.0 464.2 C677.3 464.1 679.4 464.4 680.8 463.9 C682.2 463.4 683.6 461.8 685.0 460.8 C686.4 459.8 687.7 458.2 689.3 457.4 C690.9 456.6 693.1 456.1 695.0 455.5 C696.9 454.9 699.6 454.6 701.0 453.7 C702.4 452.8 702.5 450.9 703.6 449.8 C704.7 448.7 706.5 447.7 708.0 446.6 C709.5 445.5 711.4 444.1 713.0 443.0 C714.6 441.9 716.4 440.6 718.0 439.5 C719.6 438.4 721.2 436.7 723.0 436.0 C724.8 435.3 727.1 435.4 729.0 435.2 C730.9 435.0 733.1 434.8 734.9 434.6 C736.7 434.4 738.3 434.3 740.0 434.0 C741.7 433.7 743.9 433.8 745.8 433.0 C747.7 432.2 750.3 429.8 751.8 428.7 C753.3 427.6 753.8 426.7 755.0 426.2 C756.2 425.7 758.4 425.4 759.0 425.3 L759.5 425.3 L759.5 501.8 L53.5 501.8 Z" fill="#FEE0AB"/><path d="M53.0 310.8 C54.4 310.6 59.8 310.7 61.7 309.8 C63.6 308.9 64.3 306.5 64.8 305.0 C65.3 303.5 65.2 302.1 64.8 300.5 C64.4 298.9 62.6 296.7 62.5 295.0 C62.4 293.3 63.3 290.8 64.0 289.6 C64.7 288.4 65.8 287.8 67.0 287.7 C68.2 287.6 70.3 287.9 71.8 288.8 C73.3 289.7 75.4 291.9 76.5 293.5 C77.6 295.1 78.3 298.6 78.8 299.0 C79.3 299.4 79.2 297.8 79.6 295.8 C80.0 293.8 80.1 289.2 81.0 286.5 C81.9 283.8 83.7 280.9 85.0 278.7 C86.3 276.5 88.4 274.2 89.0 273.0 C89.6 271.8 88.3 271.8 89.0 271.0 C89.7 270.2 92.4 268.9 93.6 267.8 C94.8 266.7 95.8 265.2 96.7 264.0 C97.6 262.8 98.3 261.4 99.0 260.0 C99.7 258.6 100.0 256.6 101.0 255.0 C102.0 253.4 103.7 251.3 105.0 250.0 C106.3 248.7 107.4 247.6 109.0 247.0 C110.6 246.4 112.4 246.8 115.0 246.0 C117.6 245.2 121.5 243.0 125.0 242.0 C128.5 241.0 133.8 240.9 137.0 240.0 C140.2 239.1 142.9 237.5 145.0 236.5 C147.1 235.5 148.7 234.6 150.0 234.0 C151.3 233.4 151.4 233.1 153.0 233.0 C154.6 232.9 158.1 233.3 160.0 233.5 C161.9 233.7 163.1 233.7 165.0 234.0 C166.9 234.3 169.6 235.2 172.0 235.5 C174.4 235.8 177.8 236.0 180.0 236.0 C182.2 236.0 184.4 235.8 186.0 235.5 C187.6 235.2 188.4 234.6 190.0 234.0 C191.6 233.4 194.4 232.3 196.0 231.5 C197.6 230.7 198.7 230.2 200.0 229.0 C201.3 227.8 202.9 225.3 204.0 224.0 C205.1 222.7 205.7 221.6 207.0 221.0 C208.3 220.4 210.4 220.5 212.0 220.3 C213.6 220.1 215.6 220.3 217.0 219.8 C218.4 219.3 220.0 218.2 221.0 217.0 C222.0 215.8 222.2 213.8 223.0 212.0 C223.8 210.2 225.0 207.8 226.0 206.0 C227.0 204.2 227.9 202.3 229.0 201.0 C230.1 199.7 231.6 198.6 233.0 198.0 C234.4 197.4 236.1 197.2 238.0 197.0 C239.9 196.8 242.3 196.9 245.0 197.0 C247.7 197.1 252.3 197.5 255.0 197.7 C257.7 197.9 259.6 198.0 262.0 198.0 C264.4 198.0 267.4 197.7 270.0 197.5 C272.6 197.3 275.6 196.9 278.0 196.6 C280.4 196.3 283.2 195.9 285.0 195.5 C286.8 195.1 287.9 194.5 289.0 194.0 C290.1 193.5 290.7 192.8 292.0 192.6 C293.3 192.4 295.4 192.5 297.0 192.8 C298.6 193.1 300.4 194.0 302.0 194.5 C303.6 195.0 305.4 195.5 307.0 195.7 C308.6 195.9 310.2 195.8 312.0 195.5 C313.8 195.2 316.1 194.5 318.0 194.0 C319.9 193.5 322.1 193.0 324.0 192.6 C325.9 192.2 328.4 191.9 330.0 191.8 C331.6 191.7 332.4 191.8 334.0 192.2 C335.6 192.6 338.1 193.6 340.0 194.0 C341.9 194.4 344.1 195.0 346.0 195.0 C347.9 195.0 350.2 194.5 352.0 194.2 C353.8 193.9 355.4 193.2 357.0 193.0 C358.6 192.8 360.4 192.7 362.0 193.0 C363.6 193.3 365.6 194.8 367.0 195.0 C368.4 195.2 369.7 194.0 371.0 194.0 C372.3 194.0 373.6 194.4 375.0 195.0 C376.4 195.6 378.4 197.3 380.0 197.5 C381.6 197.7 383.7 196.3 385.0 196.5 C386.3 196.7 386.9 197.9 388.0 198.5 C389.1 199.1 390.6 200.1 392.0 200.5 C393.4 200.9 395.2 201.0 397.0 201.0 C398.8 201.0 401.2 201.2 403.0 200.7 C404.8 200.2 406.4 198.8 408.0 198.0 C409.6 197.2 411.4 196.3 413.0 195.5 C414.6 194.7 416.1 193.8 418.0 193.3 C419.9 192.8 422.8 192.7 425.0 192.5 C427.2 192.3 429.6 192.0 432.0 192.0 C434.4 192.0 437.1 192.1 440.0 192.3 C442.9 192.5 446.8 192.8 450.0 193.0 C453.2 193.2 456.8 193.1 460.0 193.3 C463.2 193.5 467.1 194.2 470.0 194.0 C472.9 193.8 475.8 192.6 478.0 192.2 C480.2 191.8 482.4 191.0 484.0 191.2 C485.6 191.4 486.7 192.6 488.0 193.5 C489.3 194.4 490.6 196.0 492.0 197.0 C493.4 198.0 495.7 199.8 497.0 200.0 C498.3 200.2 499.2 198.8 500.0 198.5 C500.8 198.2 501.0 197.8 502.0 198.0 C503.0 198.2 504.7 199.4 506.0 200.0 C507.3 200.6 508.6 201.5 510.0 202.0 C511.4 202.5 513.1 203.0 515.0 203.2 C516.9 203.4 519.9 203.5 522.0 203.3 C524.1 203.1 526.4 202.6 528.0 202.0 C529.6 201.4 530.9 200.5 532.0 199.5 C533.1 198.5 534.0 197.4 535.0 196.0 C536.0 194.6 537.0 192.1 538.0 190.5 C539.0 188.9 539.9 187.4 541.0 186.0 C542.1 184.6 543.6 182.9 545.0 182.0 C546.4 181.1 548.2 180.7 550.0 180.3 C551.8 179.9 554.4 179.5 556.0 179.3 C557.6 179.1 558.4 178.8 560.0 179.0 C561.6 179.2 564.4 180.7 566.0 180.8 C567.6 180.9 568.6 179.9 570.0 179.5 C571.4 179.1 573.4 178.3 575.0 178.0 C576.6 177.7 578.2 177.6 580.0 177.7 C581.8 177.8 584.4 178.1 586.0 178.5 C587.6 178.9 588.7 179.7 590.0 180.5 C591.3 181.3 592.7 182.5 594.0 183.5 C595.3 184.5 596.7 185.9 598.0 187.0 C599.3 188.1 600.9 189.6 602.0 190.5 C603.1 191.4 604.0 191.9 605.0 192.5 C606.0 193.1 606.8 193.8 608.0 194.2 C609.2 194.6 611.1 194.9 612.5 195.0 C613.9 195.1 615.8 195.0 617.0 194.8 C618.2 194.6 618.9 194.4 620.0 194.0 C621.1 193.6 622.7 192.7 624.0 192.0 C625.3 191.3 627.0 190.8 628.0 189.8 C629.0 188.8 628.9 187.0 630.0 185.5 C631.1 184.0 633.3 182.1 634.7 180.7 C636.1 179.3 638.0 178.5 639.0 177.0 C640.0 175.5 639.9 173.2 641.0 171.4 C642.1 169.6 643.8 167.5 645.6 166.0 C647.4 164.5 650.2 163.3 652.0 162.0 C653.8 160.7 656.0 159.8 657.0 158.0 C658.0 156.2 657.5 152.8 658.0 151.0 C658.5 149.2 659.1 148.0 660.0 146.5 C660.9 145.0 662.4 144.0 663.5 141.8 C664.6 139.6 665.7 135.0 666.6 132.5 C667.5 130.0 668.3 128.5 669.0 126.0 C669.7 123.5 669.8 119.1 671.0 116.6 C672.2 114.1 674.5 112.4 676.7 110.4 C678.9 108.4 682.1 106.2 684.5 104.0 C686.9 101.8 689.9 98.6 691.5 96.4 C693.1 94.2 693.2 91.7 694.6 90.0 C696.0 88.3 697.9 87.1 700.0 86.0 C702.1 84.9 705.3 84.0 708.0 83.0 C710.7 82.0 714.5 80.9 717.0 80.0 C719.5 79.1 721.7 78.0 723.5 77.4 C725.3 76.8 727.0 77.2 728.0 76.0 C729.0 74.8 728.7 71.5 729.7 70.0 C730.7 68.5 732.0 67.8 734.0 66.8 C736.0 65.8 739.8 65.1 742.0 63.7 C744.2 62.3 746.0 59.3 748.0 58.0 C750.0 56.7 752.8 56.1 754.6 55.6 C756.4 55.1 758.3 55.1 759.0 55.0" fill="none" stroke="#1a1a1a" stroke-width="1.15" stroke-linejoin="round"/><path d="M53.0 335.5 C53.6 335.2 55.9 334.1 57.0 333.5 C58.1 332.9 58.9 331.9 60.0 331.6 C61.1 331.3 62.9 331.4 64.0 331.6 C65.1 331.8 66.0 333.1 67.0 333.0 C68.0 332.9 68.7 331.2 70.0 331.0 C71.3 330.8 73.2 331.3 75.0 331.6 C76.8 331.9 79.3 332.5 81.0 333.0 C82.7 333.5 84.5 334.3 85.8 334.5 C87.1 334.7 88.5 333.8 89.0 334.0 C89.5 334.2 89.9 335.0 89.0 336.0 C88.1 337.0 85.0 338.7 83.5 340.0 C82.0 341.3 80.1 342.4 79.6 344.0 C79.1 345.6 80.0 348.0 80.4 350.0 C80.8 352.0 81.6 354.3 82.0 356.5 C82.4 358.7 82.2 361.9 82.7 364.0 C83.2 366.1 83.9 368.6 85.0 369.7 C86.1 370.8 88.7 369.9 89.7 371.0 C90.7 372.1 90.4 374.8 91.0 376.7 C91.6 378.6 92.7 381.1 93.6 383.0 C94.5 384.9 95.5 387.0 96.7 388.4 C97.9 389.8 99.7 390.8 101.4 392.0 C103.1 393.2 105.6 394.5 107.6 396.0 C109.6 397.5 112.3 399.8 114.0 401.6 C115.7 403.4 117.1 405.3 118.5 407.0 C119.9 408.7 121.5 410.9 123.0 412.5 C124.5 414.1 126.1 416.0 128.0 417.0 C129.9 418.0 132.5 417.2 135.0 418.5 C137.5 419.8 141.0 422.9 143.5 425.0 C146.0 427.1 148.1 430.0 150.5 431.6 C152.9 433.2 156.1 433.6 158.7 435.0 C161.3 436.4 164.2 438.7 167.0 440.3 C169.8 441.9 172.6 443.7 176.3 445.0 C180.0 446.3 185.5 447.3 190.4 448.5 C195.3 449.7 201.6 451.3 206.8 452.5 C212.0 453.7 217.7 454.8 223.0 456.0 C228.3 457.2 235.7 459.1 239.7 459.8 C243.7 460.5 245.4 460.7 248.0 460.3 C250.6 459.9 253.6 458.4 256.0 457.5 C258.4 456.6 260.4 455.2 263.0 454.4 C265.6 453.6 269.1 453.4 272.5 452.8 C275.9 452.2 280.6 451.4 284.0 450.4 C287.4 449.4 290.2 447.7 293.6 446.7 C297.0 445.7 302.0 444.9 305.4 444.3 C308.8 443.7 312.5 443.1 314.7 442.7 C316.9 442.3 318.2 441.3 319.0 441.5 C319.8 441.7 319.7 443.2 319.6 443.9 C319.5 444.6 318.2 445.0 318.3 445.7 C318.4 446.4 319.3 447.3 320.0 448.0 C320.7 448.7 321.2 449.5 322.5 450.0 C323.8 450.5 326.0 450.8 328.0 451.0 C330.0 451.2 332.9 451.2 335.0 451.2 C337.1 451.2 339.4 451.3 341.0 451.0 C342.6 450.7 344.1 450.3 345.0 449.5 C345.9 448.7 346.0 447.2 346.5 446.0 C347.0 444.8 347.4 443.1 348.0 442.0 C348.6 440.9 349.5 439.8 350.5 439.0 C351.5 438.2 352.8 437.6 354.0 437.3 C355.2 437.0 356.7 436.8 358.0 437.0 C359.3 437.2 360.7 437.8 362.0 438.5 C363.3 439.2 364.7 440.5 366.0 441.5 C367.3 442.5 368.6 443.7 370.0 444.5 C371.4 445.3 373.2 446.2 375.0 446.8 C376.8 447.4 378.9 447.8 381.0 448.2 C383.1 448.6 385.8 448.9 388.0 449.5 C390.2 450.1 392.6 451.3 395.0 451.8 C397.4 452.3 400.6 452.5 403.0 452.7 C405.4 452.9 407.8 452.9 410.0 452.8 C412.2 452.7 414.6 452.4 417.0 451.8 C419.4 451.2 422.4 450.1 425.0 449.3 C427.6 448.5 430.6 447.5 433.0 446.8 C435.4 446.1 437.9 445.7 440.0 444.8 C442.1 443.9 444.0 442.3 446.0 441.0 C448.0 439.7 451.0 437.5 452.5 436.7 C454.0 435.9 454.5 436.3 455.6 436.3 C456.7 436.3 458.3 437.3 459.5 437.0 C460.7 436.7 462.0 435.9 463.4 434.7 C464.8 433.5 466.8 431.2 468.0 429.3 C469.2 427.4 470.0 424.9 471.0 423.0 C472.0 421.1 473.5 419.2 474.3 417.6 C475.1 416.0 475.4 414.0 476.0 413.0 C476.6 412.0 477.3 411.4 478.0 411.4 C478.7 411.4 480.2 411.9 480.5 413.0 C480.8 414.1 479.7 416.7 479.7 418.4 C479.7 420.1 480.2 421.9 480.8 423.8 C481.4 425.7 482.7 428.1 483.6 430.0 C484.5 431.9 485.9 433.6 486.7 435.5 C487.5 437.4 488.2 439.7 488.3 441.7 C488.4 443.7 487.5 446.0 487.5 448.0 C487.5 450.0 487.7 452.3 488.3 454.0 C488.9 455.7 489.9 457.5 491.4 458.9 C492.9 460.3 495.4 461.8 497.6 462.8 C499.8 463.8 502.6 464.5 505.4 465.0 C508.2 465.5 513.3 465.7 514.8 465.9 C516.3 466.1 515.8 467.2 514.8 466.3 C513.8 465.4 510.8 462.6 508.5 460.4 C506.2 458.2 503.1 455.1 500.7 452.6 C498.3 450.1 494.6 446.0 493.7 444.8 C492.8 443.6 493.7 443.6 495.3 444.8 C496.9 446.0 501.0 449.8 503.9 452.6 C506.8 455.4 510.5 460.0 513.2 462.0 C515.9 464.0 518.3 464.1 521.0 465.0 C523.7 465.9 527.1 466.8 530.3 467.4 C533.5 468.0 538.2 468.7 541.2 469.0 C544.2 469.3 546.5 469.6 549.0 469.5 C551.5 469.4 554.6 469.0 556.8 468.2 C559.0 467.4 561.3 465.4 563.0 464.3 C564.7 463.2 566.2 461.7 567.7 461.2 C569.2 460.7 570.4 460.8 572.4 461.2 C574.4 461.6 577.2 462.5 580.0 463.5 C582.8 464.5 586.8 466.5 590.0 467.5 C593.2 468.5 596.8 469.5 600.0 470.0 C603.2 470.5 606.8 470.7 610.0 470.6 C613.2 470.5 617.4 469.4 620.0 469.5 C622.6 469.6 624.1 470.9 626.0 471.5 C627.9 472.1 630.0 472.9 631.8 473.0 C633.6 473.1 635.5 472.5 637.0 472.3 C638.5 472.1 639.7 471.8 641.0 471.8 C642.3 471.8 643.9 472.4 645.0 472.6 C646.1 472.8 646.6 473.3 647.9 473.0 C649.2 472.7 651.1 471.2 653.0 470.6 C654.9 470.0 657.7 469.5 660.0 469.0 C662.3 468.5 665.3 467.9 667.3 467.2 C669.3 466.5 671.0 465.2 672.4 464.7 C673.8 464.2 674.7 464.3 676.0 464.2 C677.3 464.1 679.4 464.4 680.8 463.9 C682.2 463.4 683.6 461.8 685.0 460.8 C686.4 459.8 687.7 458.2 689.3 457.4 C690.9 456.6 693.1 456.1 695.0 455.5 C696.9 454.9 699.6 454.6 701.0 453.7 C702.4 452.8 702.5 450.9 703.6 449.8 C704.7 448.7 706.5 447.7 708.0 446.6 C709.5 445.5 711.4 444.1 713.0 443.0 C714.6 441.9 716.4 440.6 718.0 439.5 C719.6 438.4 721.2 436.7 723.0 436.0 C724.8 435.3 727.1 435.4 729.0 435.2 C730.9 435.0 733.1 434.8 734.9 434.6 C736.7 434.4 738.3 434.3 740.0 434.0 C741.7 433.7 743.9 433.8 745.8 433.0 C747.7 432.2 750.3 429.8 751.8 428.7 C753.3 427.6 753.8 426.7 755.0 426.2 C756.2 425.7 758.4 425.4 759.0 425.3" fill="none" stroke="#1a1a1a" stroke-width="1.15" stroke-linejoin="round"/><path d="M602 470.5 L604 478 L608 484 L615 488 L625 493 L635 498 L640.5 502" fill="none" stroke="#777" stroke-width="0.8"/><path d="M480 432 Q477 436 479.5 440 Q484 443 487 439" fill="none" stroke="#777" stroke-width="0.7"/><path d="M70 332 Q74 342 82 346" fill="none" stroke="#777" stroke-width="0.7"/><path d="M566.5 458.5 l1.5 -3 l3 0.5 l0.5 3 z" fill="#333"/><path d="M84.0 24.0 L84.0 32.0 L75.0 33.0 L69.0 36.0 L68.0 42.0 L72.0 46.0 L78.0 47.0 L87.0 46.0 L95.0 42.0 L104.0 38.0 L111.0 39.0 L117.0 36.0 L122.0 32.0 L130.0 31.0 L136.0 31.0 L141.0 35.0 L145.0 42.0 L148.0 48.0 L148.5 56.0 L147.0 62.0 L152.0 67.0 L156.0 74.0 L160.0 80.0 L164.0 85.0 L170.0 92.0 L175.0 95.0 L180.0 92.0 L185.0 89.0 L190.0 92.0 L192.0 98.0 L193.0 106.0 L200.0 107.0 L205.0 110.0 L210.0 114.0 L215.0 114.0 L222.0 111.0 L225.0 108.5 L230.0 104.0 L240.0 103.0 L241.0 110.0 L245.0 115.0 L252.0 117.0" fill="none" stroke="#5e5e76" stroke-width="1.0" stroke-linejoin="round" stroke-dasharray="3.7 2.6"/><path d="M193.0 106.0 L187.0 106.0 L182.0 108.0 L181.0 115.0 L176.0 120.0 L170.0 122.0 L165.0 118.0 L160.0 116.0 L155.0 120.0 L148.0 121.0 L144.0 119.0 L146.0 124.0 L152.0 126.0 L148.0 130.0 L140.0 135.0 L130.0 140.0 L120.0 146.0 L112.0 150.0" fill="none" stroke="#5e5e76" stroke-width="1.0" stroke-linejoin="round" stroke-dasharray="3.7 2.6"/><path d="M53.0 142.0 L60.0 142.0 L65.0 146.0 L64.0 151.0 L60.0 154.0 L63.0 158.0 L68.0 157.0 L75.0 152.0 L82.0 148.0 L87.0 147.0 L91.0 152.0 L96.0 157.0 L102.0 158.0 L108.0 154.0 L112.0 150.0 L117.0 152.0 L121.0 157.0 L122.0 165.0 L118.0 172.0 L112.0 177.0 L105.0 179.0 L98.0 175.0 L92.0 172.0 L85.0 172.0 L80.0 178.0 L82.0 183.0 L86.0 187.0 L86.0 193.0 L83.0 200.0 L80.0 206.0 L73.0 211.0 L65.0 213.0 L58.0 218.0 L53.0 222.0" fill="none" stroke="#5e5e76" stroke-width="1.0" stroke-linejoin="round" stroke-dasharray="3.7 2.6"/><path d="M53.0 231.0 L60.0 230.0 L66.0 232.0 L72.0 240.0 L78.0 248.0 L82.0 256.0 L83.0 263.0 L89.0 262.5 L93.0 265.0" fill="none" stroke="#5e5e76" stroke-width="1.0" stroke-linejoin="round" stroke-dasharray="3.7 2.6"/><path d="M266.0 24.0 L270.0 29.0 L276.0 33.0 L270.0 43.0 L278.0 50.0 L285.0 58.0 L290.0 66.0 L297.0 73.0 L305.0 81.0" fill="none" stroke="#5e5e76" stroke-width="1.0" stroke-linejoin="round" stroke-dasharray="3.7 2.6"/><path d="M252.0 117.0 L258.0 114.0 L262.0 110.0 L262.0 103.0 L265.0 95.0 L270.0 91.0 L278.0 90.0 L283.0 86.0 L290.0 82.0 L297.0 82.0 L305.0 82.0 L312.0 85.0 L320.0 86.0 L331.0 85.0 L336.0 77.0 L340.0 72.0 L347.0 68.0 L355.0 65.0 L365.0 62.0 L372.0 58.0 L380.0 53.0 L388.0 47.0 L392.0 47.0 L398.0 51.0 L405.0 55.0 L415.0 54.0 L422.0 52.0 L428.0 47.0 L435.0 43.0 L442.0 43.0 L450.0 47.0 L457.0 50.0 L465.0 47.0 L475.0 48.0 L480.0 42.0 L490.0 38.0 L490.0 24.0" fill="none" stroke="#5e5e76" stroke-width="1.0" stroke-linejoin="round" stroke-dasharray="3.7 2.6"/><path d="M252.0 117.0 L255.0 125.0 L257.0 133.0 L258.0 140.0 L262.0 147.0 L270.0 153.0 L285.0 160.0 L300.0 165.0 L312.0 170.0 L325.0 175.0 L333.0 173.0 L338.0 178.0 L342.0 185.0 L342.0 193.0" fill="none" stroke="#5e5e76" stroke-width="1.0" stroke-linejoin="round" stroke-dasharray="3.7 2.6"/><path d="M592.0 24.0 L588.0 31.0 L587.0 38.0 L587.0 45.0 L580.0 46.0 L578.0 52.0 L580.0 60.0 L575.0 63.0 L565.0 66.0 L557.0 68.0 L548.0 74.0 L540.0 79.0 L533.0 84.0 L532.0 92.0 L531.0 100.0 L530.0 107.0 L529.0 113.0 L520.0 111.0 L513.0 110.0 L507.0 105.0 L500.0 104.0 L497.0 108.0 L495.0 115.0 L490.0 120.0 L485.0 123.0 L482.0 130.0 L479.0 133.0 L472.0 137.0 L472.0 145.0 L474.0 152.0 L468.0 157.0 L461.0 165.0 L466.0 172.0 L468.0 177.0 L460.0 182.0 L452.0 187.0 L450.0 190.0" fill="none" stroke="#5e5e76" stroke-width="1.0" stroke-linejoin="round" stroke-dasharray="3.7 2.6"/><path d="M641.0 24.0 L640.0 32.0 L641.0 38.0 L648.0 48.0 L655.0 57.0 L662.0 65.0 L668.0 72.0 L673.0 76.0 L677.0 73.5 L683.0 75.5 L692.0 80.0 L700.0 86.0" fill="none" stroke="#5e5e76" stroke-width="1.0" stroke-linejoin="round" stroke-dasharray="3.7 2.6"/><path d="M152.8 296.6 L157.5 292.0 L165.0 289.3 L180.0 289.0 L200.0 289.0 L215.0 288.0 L225.0 285.0 L240.0 278.0 L250.0 270.0 L258.0 262.0 L266.0 253.5 L270.0 251.0 L290.0 250.0 L310.0 249.0 L330.0 248.0 L345.0 249.0 L360.0 252.0 L380.0 255.0 L400.0 257.0 L420.0 256.0 L435.0 252.0 L446.0 247.5 L453.0 246.0 L470.0 247.0 L480.0 250.0 L495.0 255.0 L510.0 258.0 L525.0 259.0 L540.0 257.0 L555.0 251.0 L565.0 247.0 L572.0 244.0 L580.0 248.0 L590.0 251.0 L605.0 253.0 L620.0 252.0 L640.0 249.0 L655.0 245.0 L665.0 240.0 L675.0 233.0 L690.0 222.0 L705.0 207.0 L715.0 195.0 L722.0 180.0 L728.0 165.0 L731.0 155.0 L733.0 145.0 L740.0 137.0 L750.0 131.0" fill="none" stroke="#26331f" stroke-width="1.1" stroke-linejoin="round" stroke-dasharray="4.5 2.6"/><path d="M150.5 308.3 L154.4 313.0 L157.5 322.3 L159.0 333.0 L159.5 340.0 L157.5 348.7 L152.8 361.0 L145.0 370.5 L134.0 378.0 L120.0 386.0 L107.6 390.7 L101.4 392.0" fill="none" stroke="#26331f" stroke-width="1.1" stroke-linejoin="round" stroke-dasharray="4.5 2.6"/><path d="M252.5 199.0 L256.0 215.0 L260.0 232.0 L264.0 245.0 L266.0 253.5" fill="none" stroke="#26331f" stroke-width="1.1" stroke-linejoin="round" stroke-dasharray="4.5 2.6"/><path d="M342.5 193.0 L343.0 210.0 L345.0 230.0 L346.0 249.0" fill="none" stroke="#26331f" stroke-width="1.1" stroke-linejoin="round" stroke-dasharray="4.5 2.6"/><path d="M452.3 195.0 L453.0 246.0" fill="none" stroke="#26331f" stroke-width="1.1" stroke-linejoin="round" stroke-dasharray="4.5 2.6"/><path d="M607.0 197.0 L610.0 215.0 L613.0 235.0 L615.0 252.0" fill="none" stroke="#26331f" stroke-width="1.1" stroke-linejoin="round" stroke-dasharray="4.5 2.6"/><path d="M701.0 85.0 L710.0 94.0 L720.0 103.5 L730.0 113.0 L740.0 122.0 L750.0 131.0 L758.0 125.5" fill="none" stroke="#26331f" stroke-width="1.1" stroke-linejoin="round" stroke-dasharray="4.5 2.6"/><path d="M758.0 57.0 L758.0 130.0" fill="none" stroke="#26331f" stroke-width="1.1" stroke-linejoin="round" stroke-dasharray="4.5 2.6"/><path d="M744.0 64.0 L755.0 77.0" fill="none" stroke="#7a7a7a" stroke-width="0.8" stroke-linejoin="round" stroke-dasharray="3.5 2.5"/><path d="M412.0 455.0 L411.6 433.0 L412.8 428.2 L414.3 423.4 L416.2 418.7 L418.4 414.2 L420.9 409.8 L423.8 405.7 L426.8 401.7 L430.2 398.0 L433.8 394.5 L437.7 391.3 L441.7 388.3 L446.0 385.6 L450.4 383.3 L455.0 381.2 L459.8 379.5 L464.6 378.1 L469.5 377.1 L474.5 376.4 L479.5 376.0 L484.5 376.0 L489.5 376.4 L494.5 377.1 L499.4 378.1 L504.2 379.5 L509.0 381.2 L513.6 383.3 L518.0 385.6 L522.3 388.3 L526.3 391.3 L530.2 394.5 L533.8 398.0 L537.2 401.7 L540.2 405.7 L543.1 409.8 L545.6 414.2 L547.8 418.7 L549.7 423.4 L551.2 428.2 L552.4 433.0 L553.3 438.0 L553.8 443.0 L554.0 448.0 L552.5 458.0 L547.0 468.0" fill="none" stroke="#26331f" stroke-width="1.1" stroke-linejoin="round" stroke-dasharray="4.5 2.6"/><path d="M96.7 266.0 L152.8 296.6" fill="none" stroke="#262626" stroke-width="1.0" stroke-linejoin="round"/><path d="M60.0 331.6 L59.3 321.5 L150.5 308.3" fill="none" stroke="#262626" stroke-width="1.0" stroke-linejoin="round"/><line x1="137" y1="24.3" x2="137" y2="501.8" stroke="#7d7a74" stroke-opacity="0.62" stroke-width="0.8" stroke-dasharray="4 3.1"/><line x1="305" y1="24.3" x2="305" y2="501.8" stroke="#7d7a74" stroke-opacity="0.62" stroke-width="0.8" stroke-dasharray="4 3.1"/><line x1="473" y1="24.3" x2="473" y2="501.8" stroke="#7d7a74" stroke-opacity="0.62" stroke-width="0.8" stroke-dasharray="4 3.1"/><line x1="641" y1="24.3" x2="641" y2="501.8" stroke="#7d7a74" stroke-opacity="0.62" stroke-width="0.8" stroke-dasharray="4 3.1"/><line x1="53.5" y1="150.2" x2="758.5" y2="150.2" stroke="#7d7a74" stroke-opacity="0.62" stroke-width="0.8" stroke-dasharray="4 3.1"/><line x1="53.5" y1="318.0" x2="758.5" y2="318.0" stroke="#7d7a74" stroke-opacity="0.62" stroke-width="0.8" stroke-dasharray="4 3.1"/><line x1="53.5" y1="485.9" x2="758.5" y2="485.9" stroke="#7d7a74" stroke-opacity="0.62" stroke-width="0.8" stroke-dasharray="4 3.1"/></g><rect x="53.5" y="24.3" width="705.0" height="477.5" fill="none" stroke="#b3a68f" stroke-width="1"/><text x="136.6" y="18.2" font-family="Liberation Sans, sans-serif" font-size="11.6" text-anchor="middle" fill="#222" textLength="21.6" lengthAdjust="spacingAndGlyphs">5°W</text><text x="304.6" y="18.2" font-family="Liberation Sans, sans-serif" font-size="11.6" text-anchor="middle" fill="#222" textLength="21.6" lengthAdjust="spacingAndGlyphs">4°W</text><text x="472.6" y="18.2" font-family="Liberation Sans, sans-serif" font-size="11.6" text-anchor="middle" fill="#222" textLength="21.6" lengthAdjust="spacingAndGlyphs">3°W</text><text x="640.6" y="18.2" font-family="Liberation Sans, sans-serif" font-size="11.6" text-anchor="middle" fill="#222" textLength="21.6" lengthAdjust="spacingAndGlyphs">2°W</text><text x="49.4" y="153.6" font-family="Liberation Sans, sans-serif" font-size="11.6" text-anchor="end" fill="#222" textLength="24.4" lengthAdjust="spacingAndGlyphs">37°N</text><text x="49.4" y="321.4" font-family="Liberation Sans, sans-serif" font-size="11.6" text-anchor="end" fill="#222" textLength="24.4" lengthAdjust="spacingAndGlyphs">36°N</text><text x="49.4" y="489.29999999999995" font-family="Liberation Sans, sans-serif" font-size="11.6" text-anchor="end" fill="#222" textLength="24.4" lengthAdjust="spacingAndGlyphs">35°N</text><rect x="808.5" y="24.00" width="19.5" height="36.63" fill="#AA00AA"/><rect x="808.5" y="60.33" width="19.5" height="36.63" fill="#E6007D"/><rect x="808.5" y="96.67" width="19.5" height="36.63" fill="#FF0000"/><rect x="808.5" y="133.00" width="19.5" height="36.63" fill="#FFAA00"/><rect x="808.5" y="169.33" width="19.5" height="36.63" fill="#FFD200"/><rect x="808.5" y="205.67" width="19.5" height="36.63" fill="#FFFF46"/><rect x="808.5" y="242.00" width="19.5" height="36.63" fill="#00FF00"/><rect x="808.5" y="278.33" width="19.5" height="36.63" fill="#80F2FF"/><rect x="808.5" y="314.67" width="19.5" height="36.63" fill="#CCFFFF"/><line x1="808.5" y1="60.33" x2="828" y2="60.33" stroke="#222" stroke-width="0.8"/><line x1="808.5" y1="96.67" x2="828" y2="96.67" stroke="#222" stroke-width="0.8"/><line x1="808.5" y1="133.00" x2="828" y2="133.00" stroke="#222" stroke-width="0.8"/><line x1="808.5" y1="169.33" x2="828" y2="169.33" stroke="#222" stroke-width="0.8"/><line x1="808.5" y1="205.67" x2="828" y2="205.67" stroke="#222" stroke-width="0.8"/><line x1="808.5" y1="242.00" x2="828" y2="242.00" stroke="#222" stroke-width="0.8"/><line x1="808.5" y1="278.33" x2="828" y2="278.33" stroke="#222" stroke-width="0.8"/><line x1="808.5" y1="314.67" x2="828" y2="314.67" stroke="#222" stroke-width="0.8"/><rect x="808.5" y="24" width="19.5" height="327" fill="none" stroke="#222" stroke-width="0.9"/><path d="M808.5 24 v-1.6 M828 24 v-1.6 M808.5 351 v1.2 M828 351 v1.2" stroke="#222" stroke-width="0.9" fill="none"/><text x="831.2" y="28.3" font-family="Liberation Sans, sans-serif" font-size="12.2" text-anchor="start" fill="#222" textLength="14.6" lengthAdjust="spacingAndGlyphs">20</text><text x="831.2" y="64.63333333333334" font-family="Liberation Sans, sans-serif" font-size="12.2" text-anchor="start" fill="#222" textLength="14.6" lengthAdjust="spacingAndGlyphs">14</text><text x="831.2" y="100.96666666666667" font-family="Liberation Sans, sans-serif" font-size="12.2" text-anchor="start" fill="#222" textLength="7.3" lengthAdjust="spacingAndGlyphs">9</text><text x="831.2" y="137.3" font-family="Liberation Sans, sans-serif" font-size="12.2" text-anchor="start" fill="#222" textLength="7.3" lengthAdjust="spacingAndGlyphs">6</text><text x="831.2" y="173.63333333333335" font-family="Liberation Sans, sans-serif" font-size="12.2" text-anchor="start" fill="#222" textLength="7.3" lengthAdjust="spacingAndGlyphs">4</text><text x="831.2" y="209.9666666666667" font-family="Liberation Sans, sans-serif" font-size="12.2" text-anchor="start" fill="#222" textLength="18.2" lengthAdjust="spacingAndGlyphs">2.5</text><text x="831.2" y="246.3" font-family="Liberation Sans, sans-serif" font-size="12.2" text-anchor="start" fill="#222" textLength="25.6" lengthAdjust="spacingAndGlyphs">1.25</text><text x="831.2" y="282.6333333333334" font-family="Liberation Sans, sans-serif" font-size="12.2" text-anchor="start" fill="#222" textLength="18.2" lengthAdjust="spacingAndGlyphs">0.5</text><text x="831.2" y="318.9666666666667" font-family="Liberation Sans, sans-serif" font-size="12.2" text-anchor="start" fill="#222" textLength="18.2" lengthAdjust="spacingAndGlyphs">0.1</text><text x="831.2" y="355.3" font-family="Liberation Sans, sans-serif" font-size="12.2" text-anchor="start" fill="#222" textLength="7.3" lengthAdjust="spacingAndGlyphs">0</text><text transform="translate(801,205.6) rotate(-90)" font-family="Liberation Sans, sans-serif" font-size="12.2" text-anchor="middle" fill="#222" textLength="63.5" lengthAdjust="spacingAndGlyphs">Altura (m)</text><text x="789.3" y="380" font-family="Liberation Sans, sans-serif" font-size="11.3" text-anchor="start" fill="#222" textLength="72.5" lengthAdjust="spacingAndGlyphs">Mar de viento</text><text x="789.3" y="427" font-family="Liberation Sans, sans-serif" font-size="11.3" text-anchor="start" fill="#222" textLength="70.7" lengthAdjust="spacingAndGlyphs">Mar de fondo</text><path d="M810 400.6 H831.8 L831 395.8 L842.6 401.7 L831 407.6 L831.8 402.8 H810 Z" fill="#0000FF"/><path d="M810 442.6 H831.8 L831 437.8 L842.6 443.7 L831 449.6 L831.8 444.8 H810 Z" fill="#505050"/><circle cx="17.1" cy="515.9" r="6" fill="none" stroke="#5b8fdc" stroke-width="1.2"/><path d="M19.8 513.9 A3.3 3.3 0 1 0 19.8 517.9" fill="none" stroke="#5b8fdc" stroke-width="1.2"/><text x="27.5" y="520" font-family="Liberation Sans, sans-serif" font-size="11.4" text-anchor="start" fill="#5b8fdc" textLength="163.6" lengthAdjust="spacingAndGlyphs" stroke="#5b8fdc" stroke-width="0.25">Agencia Estatal de Meteorología</text><g fill="#1646a0"><path d="M777 503.2 Q782 502.3 787.8 502.7 L793 503.3 L801 504.3 L799.9 506.4 L797.8 508.5 L795.7 510.3 L795.3 514.8 L793 519 L789.9 520.6 L784.4 521.9 L781.7 519 L782 513.8 L781.5 508.5 L779.9 505.9 L777.8 506.7 Z"/><circle cx="798.9" cy="511.9" r="1.15"/><circle cx="778.8" cy="520.9" r="1.1"/></g><g fill="none" stroke="#fff" stroke-width="0.75"><ellipse cx="785.2" cy="510.6" rx="2.9" ry="2.1" transform="rotate(18 785.2 510.6)"/><path d="M780.2 506.2 Q784 504.2 788.5 506.6 Q792.6 509.3 791.3 513 Q789 516.2 783.6 515.2"/><path d="M788.3 503.2 Q789.5 506 793.5 507 Q796.5 507.8 798.3 509.6"/><path d="M794 504 Q796 505.5 799.5 505.4"/><path d="M782 516.4 Q788.5 517.2 795.2 513.6"/><path d="M782 519 Q788 519.3 794 516.2"/><path d="M786.5 521.4 Q790 520 792 518.2"/></g><g fill="none" stroke="#1646a0" stroke-width="3.1" stroke-linecap="butt"><circle cx="809.9" cy="513.2" r="4.55"/><path d="M814.6 507.1 V519.3" stroke-width="3.3"/><path d="M818.75 513.40 H829.05" stroke-width="1.9"/><path d="M827.85 513.80 A4.55 4.55 0 1 0 827.12 515.68"/><path d="M832.45 507.1 V519.3 M832.45 513 A4.275 4.275 0 0 1 841 513 V519.3 M841 513 A4.275 4.275 0 0 1 849.55 513 V519.3" stroke-width="3.3"/><path d="M853.55 513.40 H863.85" stroke-width="1.9"/><path d="M862.65 513.80 A4.55 4.55 0 1 0 861.92 515.68"/><path d="M868.35 505.4 V519.3" stroke-width="3.3"/><path d="M864.7 509.4 H871.7 M869.5 517.9 H871.7" stroke-width="2.8"/></g></svg>
</body></html>
